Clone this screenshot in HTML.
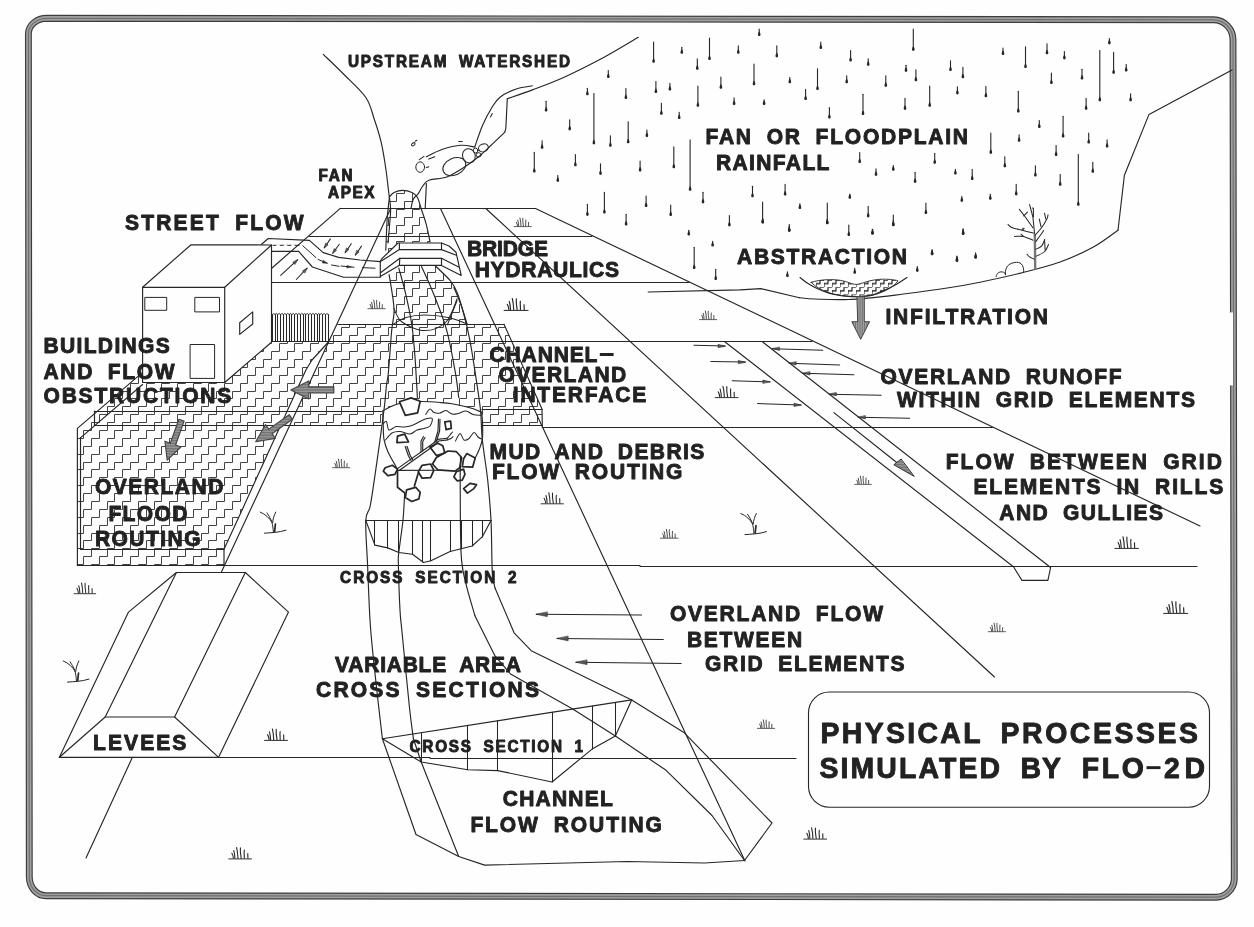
<!DOCTYPE html>
<html><head><meta charset="utf-8"><title>Physical Processes Simulated by FLO-2D</title>
<style>html,body{margin:0;padding:0;background:#fefefe;}svg{display:block;}text{font-family:"Liberation Sans",sans-serif;font-weight:bold;fill:#222;stroke:#222;stroke-width:0.9px;stroke-linejoin:round;word-spacing:0.3em;}</style></head><body>
<svg width="1254" height="927" viewBox="0 0 1254 927">
<rect x="0" y="0" width="1254" height="927" fill="#fefefe"/>
<defs>
<pattern id="stair2" x="800" y="280" width="8.0" height="7.2" patternUnits="userSpaceOnUse"><path d="M0,3.6 H4.0 V0 H8.0 M0,7.2 V3.6" fill="none" stroke="#1c1c1c" stroke-width="1.15"/></pattern>
<pattern id="hl" x="0" y="0" width="4" height="1.6" patternUnits="userSpaceOnUse"><rect x="0" y="0" width="4" height="1.6" fill="#9c9c9c"/><rect x="0" y="0" width="4" height="0.7" fill="#666"/></pattern>
<pattern id="vl" x="0" y="0" width="1.8" height="4" patternUnits="userSpaceOnUse"><rect x="0" y="0" width="1.8" height="4" fill="#a4a4a4"/><rect x="0" y="0" width="0.7" height="4" fill="#666"/></pattern>
<g id="tuft" fill="none" stroke-width="1.15"><path d="M-12,0 H12" stroke-width="1"/><path d="M-8.8,-6 C-7.8,-4.5 -7.4,-3 -7.2,-0.8"/><path d="M-6.8,-8.9 C-5.9,-6 -5.7,-3.5 -5.6,-0.8"/><path d="M-3.8,-11.9 C-2.8,-8 -2.5,-4.5 -2.4,-0.8"/><path d="M0.2,-11.6 C-0.2,-7.5 0.6,-3.5 1.1,-0.6"/><path d="M4.3,-9.2 C3.7,-6 4.6,-3.5 4.3,-0.8"/><path d="M8,-5.7 C7.8,-4 8.2,-2.5 8.1,-0.8"/></g>
<g id="sprout" fill="none" stroke-width="1.0"><path d="M-9,1.1 C-3,0.6 5,0.6 12.5,-1.9"/><path d="M0,0 C-0.3,-4 -0.8,-7 -1.5,-9.8"/><path d="M-1.5,-9.8 C-4,-14 -8,-18 -13.2,-20"/><path d="M-1.8,-11 C-3.2,-14 -4.8,-17 -6.4,-19.2"/><path d="M-0.8,-9.5 C-0.5,-13 0.8,-17 2.3,-20"/><path d="M1.2,-0.5 L2,-8" stroke-width="1.7"/></g>
</defs>
<g stroke="#262626" fill="none" stroke-linecap="round" stroke-linejoin="round">
<g id="border">
<path d="M46.9,18.3 L1213.5,19.8 A19.5,20 0 0 1 1233.0,39.8 L1234.3,878.2 A18.5,19 0 0 1 1215.8,897.2 L45.8,895.7 A16.5,19 0 0 1 29.3,876.7 L28.4,33.8 A18.5,15.5 0 0 1 46.9,18.3 Z" stroke="#3c3c3c" stroke-width="6.9"/>
<path d="M46.9,18.3 L1213.5,19.8 A19.5,20 0 0 1 1233.0,39.8 L1234.3,878.2 A18.5,19 0 0 1 1215.8,897.2 L45.8,895.7 A16.5,19 0 0 1 29.3,876.7 L28.4,33.8 A18.5,15.5 0 0 1 46.9,18.3 Z" stroke="#a0a0a0" stroke-width="4.6"/>
<path d="M46.9,18.3 L1213.5,19.8 A19.5,20 0 0 1 1233.0,39.8 L1234.3,878.2 A18.5,19 0 0 1 1215.8,897.2 L45.8,895.7 A16.5,19 0 0 1 29.3,876.7 L28.4,33.8 A18.5,15.5 0 0 1 46.9,18.3 Z" stroke="#707070" stroke-width="1.2"/>
<rect x="1226" y="312.4" width="7" height="73" fill="#fefefe" stroke="none"/>
</g>
<clipPath id="hc"><path d="M77.4,565.5 L77.4,428.4 L142.6,372.4 L142.6,382.6 L224.7,382.6 L271.5,342.0 L328.9,341.5 L312.0,360.0 L305.9,370.0 L255.7,480.0 L242.1,510.0 L224.0,549.3 L224.0,565.5 Z"/><path d="M336.8,324.3 L504.0,324.3 L542.0,408.9 L542.3,425.4 L289.7,425.4 Z"/><path d="M389.4,197.0 L394.0,192.6 L402.5,190.4 L412.0,192.6 L416.5,196.5 L421.2,208.8 L426.0,223.4 L430.1,242.0 L436.0,266.5 L450.6,281.0 L457.1,292.4 L463.6,313.4 L467.6,325.0 L392.5,325.0 L394.0,313.4 L393.2,300.5 L389.1,274.6 L385.8,250.1 L387.2,218.5 Z"/></clipPath>
<g id="hatch" clip-path="url(#hc)"><path d="M60.5,185.5H68.5V177.5H75.5V170.5M60.5,201.5H68.5V193.5H75.5V185.5H83.5V177.5H91.5V170.5M60.5,217.5H68.5V209.5H75.5V201.5H83.5V193.5H91.5V185.5H99.5V177.5H107.5V170.5M60.5,233.5H68.5V225.5H75.5V217.5H83.5V209.5H91.5V201.5H99.5V193.5H107.5V185.5H114.5V177.5H122.5V170.5M60.5,248.5H68.5V241.5H75.5V233.5H83.5V225.5H91.5V217.5H99.5V209.5H107.5V201.5H114.5V193.5H122.5V185.5H130.5V177.5H138.5V170.5M60.5,264.5H68.5V256.5H75.5V248.5H83.5V241.5H91.5V233.5H99.5V225.5H107.5V217.5H114.5V209.5H122.5V201.5H130.5V193.5H138.5V185.5H146.5V177.5H154.5V170.5M60.5,280.5H68.5V272.5H75.5V264.5H83.5V256.5H91.5V248.5H99.5V241.5H107.5V233.5H114.5V225.5H122.5V217.5H130.5V209.5H138.5V201.5H146.5V193.5H154.5V185.5H161.5V177.5H169.5V170.5M60.5,296.5H68.5V288.5H75.5V280.5H83.5V272.5H91.5V264.5H99.5V256.5H107.5V248.5H114.5V241.5H122.5V233.5H130.5V225.5H138.5V217.5H146.5V209.5H154.5V201.5H161.5V193.5H169.5V185.5H177.5V177.5H185.5V170.5M60.5,312.5H68.5V304.5H75.5V296.5H83.5V288.5H91.5V280.5H99.5V272.5H107.5V264.5H114.5V256.5H122.5V248.5H130.5V241.5H138.5V233.5H146.5V225.5H154.5V217.5H161.5V209.5H169.5V201.5H177.5V193.5H185.5V185.5H193.5V177.5H201.5V170.5M60.5,327.5H68.5V319.5H75.5V312.5H83.5V304.5H91.5V296.5H99.5V288.5H107.5V280.5H114.5V272.5H122.5V264.5H130.5V256.5H138.5V248.5H146.5V241.5H154.5V233.5H161.5V225.5H169.5V217.5H177.5V209.5H185.5V201.5H193.5V193.5H201.5V185.5H208.5V177.5H216.5V170.5M60.5,343.5H68.5V335.5H75.5V327.5H83.5V319.5H91.5V312.5H99.5V304.5H107.5V296.5H114.5V288.5H122.5V280.5H130.5V272.5H138.5V264.5H146.5V256.5H154.5V248.5H161.5V241.5H169.5V233.5H177.5V225.5H185.5V217.5H193.5V209.5H201.5V201.5H208.5V193.5H216.5V185.5H224.5V177.5H232.5V170.5M60.5,359.5H68.5V351.5H75.5V343.5H83.5V335.5H91.5V327.5H99.5V319.5H107.5V312.5H114.5V304.5H122.5V296.5H130.5V288.5H138.5V280.5H146.5V272.5H154.5V264.5H161.5V256.5H169.5V248.5H177.5V241.5H185.5V233.5H193.5V225.5H201.5V217.5H208.5V209.5H216.5V201.5H224.5V193.5H232.5V185.5H240.5V177.5H247.5V170.5M60.5,375.5H68.5V367.5H75.5V359.5H83.5V351.5H91.5V343.5H99.5V335.5H107.5V327.5H114.5V319.5H122.5V312.5H130.5V304.5H138.5V296.5H146.5V288.5H154.5V280.5H161.5V272.5H169.5V264.5H177.5V256.5H185.5V248.5H193.5V241.5H201.5V233.5H208.5V225.5H216.5V217.5H224.5V209.5H232.5V201.5H240.5V193.5H247.5V185.5H255.5V177.5H263.5V170.5M60.5,391.5H68.5V383.5H75.5V375.5H83.5V367.5H91.5V359.5H99.5V351.5H107.5V343.5H114.5V335.5H122.5V327.5H130.5V319.5H138.5V312.5H146.5V304.5H154.5V296.5H161.5V288.5H169.5V280.5H177.5V272.5H185.5V264.5H193.5V256.5H201.5V248.5H208.5V241.5H216.5V233.5H224.5V225.5H232.5V217.5H240.5V209.5H247.5V201.5H255.5V193.5H263.5V185.5H271.5V177.5H279.5V170.5M60.5,406.5H68.5V398.5H75.5V391.5H83.5V383.5H91.5V375.5H99.5V367.5H107.5V359.5H114.5V351.5H122.5V343.5H130.5V335.5H138.5V327.5H146.5V319.5H154.5V312.5H161.5V304.5H169.5V296.5H177.5V288.5H185.5V280.5H193.5V272.5H201.5V264.5H208.5V256.5H216.5V248.5H224.5V241.5H232.5V233.5H240.5V225.5H247.5V217.5H255.5V209.5H263.5V201.5H271.5V193.5H279.5V185.5H287.5V177.5H294.5V170.5M60.5,422.5H68.5V414.5H75.5V406.5H83.5V398.5H91.5V391.5H99.5V383.5H107.5V375.5H114.5V367.5H122.5V359.5H130.5V351.5H138.5V343.5H146.5V335.5H154.5V327.5H161.5V319.5H169.5V312.5H177.5V304.5H185.5V296.5H193.5V288.5H201.5V280.5H208.5V272.5H216.5V264.5H224.5V256.5H232.5V248.5H240.5V241.5H247.5V233.5H255.5V225.5H263.5V217.5H271.5V209.5H279.5V201.5H287.5V193.5H294.5V185.5H302.5V177.5H310.5V170.5M60.5,438.5H68.5V430.5H75.5V422.5H83.5V414.5H91.5V406.5H99.5V398.5H107.5V391.5H114.5V383.5H122.5V375.5H130.5V367.5H138.5V359.5H146.5V351.5H154.5V343.5H161.5V335.5H169.5V327.5H177.5V319.5H185.5V312.5H193.5V304.5H201.5V296.5H208.5V288.5H216.5V280.5H224.5V272.5H232.5V264.5H240.5V256.5H247.5V248.5H255.5V241.5H263.5V233.5H271.5V225.5H279.5V217.5H287.5V209.5H294.5V201.5H302.5V193.5H310.5V185.5H318.5V177.5H326.5V170.5M60.5,454.5H68.5V446.5H75.5V438.5H83.5V430.5H91.5V422.5H99.5V414.5H107.5V406.5H114.5V398.5H122.5V391.5H130.5V383.5H138.5V375.5H146.5V367.5H154.5V359.5H161.5V351.5H169.5V343.5H177.5V335.5H185.5V327.5H193.5V319.5H201.5V312.5H208.5V304.5H216.5V296.5H224.5V288.5H232.5V280.5H240.5V272.5H247.5V264.5H255.5V256.5H263.5V248.5H271.5V241.5H279.5V233.5H287.5V225.5H294.5V217.5H302.5V209.5H310.5V201.5H318.5V193.5H326.5V185.5H333.5V177.5H341.5V170.5M60.5,469.5H68.5V462.5H75.5V454.5H83.5V446.5H91.5V438.5H99.5V430.5H107.5V422.5H114.5V414.5H122.5V406.5H130.5V398.5H138.5V391.5H146.5V383.5H154.5V375.5H161.5V367.5H169.5V359.5H177.5V351.5H185.5V343.5H193.5V335.5H201.5V327.5H208.5V319.5H216.5V312.5H224.5V304.5H232.5V296.5H240.5V288.5H247.5V280.5H255.5V272.5H263.5V264.5H271.5V256.5H279.5V248.5H287.5V241.5H294.5V233.5H302.5V225.5H310.5V217.5H318.5V209.5H326.5V201.5H333.5V193.5H341.5V185.5H349.5V177.5H357.5V170.5M60.5,485.5H68.5V477.5H75.5V469.5H83.5V462.5H91.5V454.5H99.5V446.5H107.5V438.5H114.5V430.5H122.5V422.5H130.5V414.5H138.5V406.5H146.5V398.5H154.5V391.5H161.5V383.5H169.5V375.5H177.5V367.5H185.5V359.5H193.5V351.5H201.5V343.5H208.5V335.5H216.5V327.5H224.5V319.5H232.5V312.5H240.5V304.5H247.5V296.5H255.5V288.5H263.5V280.5H271.5V272.5H279.5V264.5H287.5V256.5H294.5V248.5H302.5V241.5H310.5V233.5H318.5V225.5H326.5V217.5H333.5V209.5H341.5V201.5H349.5V193.5H357.5V185.5H365.5V177.5H373.5V170.5M60.5,501.5H68.5V493.5H75.5V485.5H83.5V477.5H91.5V469.5H99.5V462.5H107.5V454.5H114.5V446.5H122.5V438.5H130.5V430.5H138.5V422.5H146.5V414.5H154.5V406.5H161.5V398.5H169.5V391.5H177.5V383.5H185.5V375.5H193.5V367.5H201.5V359.5H208.5V351.5H216.5V343.5H224.5V335.5H232.5V327.5H240.5V319.5H247.5V312.5H255.5V304.5H263.5V296.5H271.5V288.5H279.5V280.5H287.5V272.5H294.5V264.5H302.5V256.5H310.5V248.5H318.5V241.5H326.5V233.5H333.5V225.5H341.5V217.5H349.5V209.5H357.5V201.5H365.5V193.5H373.5V185.5H380.5V177.5H388.5V170.5M60.5,517.5H68.5V509.5H75.5V501.5H83.5V493.5H91.5V485.5H99.5V477.5H107.5V469.5H114.5V462.5H122.5V454.5H130.5V446.5H138.5V438.5H146.5V430.5H154.5V422.5H161.5V414.5H169.5V406.5H177.5V398.5H185.5V391.5H193.5V383.5H201.5V375.5H208.5V367.5H216.5V359.5H224.5V351.5H232.5V343.5H240.5V335.5H247.5V327.5H255.5V319.5H263.5V312.5H271.5V304.5H279.5V296.5H287.5V288.5H294.5V280.5H302.5V272.5H310.5V264.5H318.5V256.5H326.5V248.5H333.5V241.5H341.5V233.5H349.5V225.5H357.5V217.5H365.5V209.5H373.5V201.5H380.5V193.5H388.5V185.5H396.5V177.5H404.5V170.5M60.5,533.5H68.5V525.5H75.5V517.5H83.5V509.5H91.5V501.5H99.5V493.5H107.5V485.5H114.5V477.5H122.5V469.5H130.5V462.5H138.5V454.5H146.5V446.5H154.5V438.5H161.5V430.5H169.5V422.5H177.5V414.5H185.5V406.5H193.5V398.5H201.5V391.5H208.5V383.5H216.5V375.5H224.5V367.5H232.5V359.5H240.5V351.5H247.5V343.5H255.5V335.5H263.5V327.5H271.5V319.5H279.5V312.5H287.5V304.5H294.5V296.5H302.5V288.5H310.5V280.5H318.5V272.5H326.5V264.5H333.5V256.5H341.5V248.5H349.5V241.5H357.5V233.5H365.5V225.5H373.5V217.5H380.5V209.5H388.5V201.5H396.5V193.5H404.5V185.5H412.5V177.5H419.5V170.5M60.5,548.5H68.5V540.5H75.5V533.5H83.5V525.5H91.5V517.5H99.5V509.5H107.5V501.5H114.5V493.5H122.5V485.5H130.5V477.5H138.5V469.5H146.5V462.5H154.5V454.5H161.5V446.5H169.5V438.5H177.5V430.5H185.5V422.5H193.5V414.5H201.5V406.5H208.5V398.5H216.5V391.5H224.5V383.5H232.5V375.5H240.5V367.5H247.5V359.5H255.5V351.5H263.5V343.5H271.5V335.5H279.5V327.5H287.5V319.5H294.5V312.5H302.5V304.5H310.5V296.5H318.5V288.5H326.5V280.5H333.5V272.5H341.5V264.5H349.5V256.5H357.5V248.5H365.5V241.5H373.5V233.5H380.5V225.5H388.5V217.5H396.5V209.5H404.5V201.5H412.5V193.5H419.5V185.5H427.5V177.5H435.5V170.5M60.5,564.5H68.5V556.5H75.5V548.5H83.5V540.5H91.5V533.5H99.5V525.5H107.5V517.5H114.5V509.5H122.5V501.5H130.5V493.5H138.5V485.5H146.5V477.5H154.5V469.5H161.5V462.5H169.5V454.5H177.5V446.5H185.5V438.5H193.5V430.5H201.5V422.5H208.5V414.5H216.5V406.5H224.5V398.5H232.5V391.5H240.5V383.5H247.5V375.5H255.5V367.5H263.5V359.5H271.5V351.5H279.5V343.5H287.5V335.5H294.5V327.5H302.5V319.5H310.5V312.5H318.5V304.5H326.5V296.5H333.5V288.5H341.5V280.5H349.5V272.5H357.5V264.5H365.5V256.5H373.5V248.5H380.5V241.5H388.5V233.5H396.5V225.5H404.5V217.5H412.5V209.5H419.5V201.5H427.5V193.5H435.5V185.5H443.5V177.5H451.5V170.5M68.5,572.5H75.5V564.5H83.5V556.5H91.5V548.5H99.5V540.5H107.5V533.5H114.5V525.5H122.5V517.5H130.5V509.5H138.5V501.5H146.5V493.5H154.5V485.5H161.5V477.5H169.5V469.5H177.5V462.5H185.5V454.5H193.5V446.5H201.5V438.5H208.5V430.5H216.5V422.5H224.5V414.5H232.5V406.5H240.5V398.5H247.5V391.5H255.5V383.5H263.5V375.5H271.5V367.5H279.5V359.5H287.5V351.5H294.5V343.5H302.5V335.5H310.5V327.5H318.5V319.5H326.5V312.5H333.5V304.5H341.5V296.5H349.5V288.5H357.5V280.5H365.5V272.5H373.5V264.5H380.5V256.5H388.5V248.5H396.5V241.5H404.5V233.5H412.5V225.5H419.5V217.5H427.5V209.5H435.5V201.5H443.5V193.5H451.5V185.5H459.5V177.5H466.5V170.5M83.5,572.5H91.5V564.5H99.5V556.5H107.5V548.5H114.5V540.5H122.5V533.5H130.5V525.5H138.5V517.5H146.5V509.5H154.5V501.5H161.5V493.5H169.5V485.5H177.5V477.5H185.5V469.5H193.5V462.5H201.5V454.5H208.5V446.5H216.5V438.5H224.5V430.5H232.5V422.5H240.5V414.5H247.5V406.5H255.5V398.5H263.5V391.5H271.5V383.5H279.5V375.5H287.5V367.5H294.5V359.5H302.5V351.5H310.5V343.5H318.5V335.5H326.5V327.5H333.5V319.5H341.5V312.5H349.5V304.5H357.5V296.5H365.5V288.5H373.5V280.5H380.5V272.5H388.5V264.5H396.5V256.5H404.5V248.5H412.5V241.5H419.5V233.5H427.5V225.5H435.5V217.5H443.5V209.5H451.5V201.5H459.5V193.5H466.5V185.5H474.5V177.5H482.5V170.5M99.5,572.5H107.5V564.5H114.5V556.5H122.5V548.5H130.5V540.5H138.5V533.5H146.5V525.5H154.5V517.5H161.5V509.5H169.5V501.5H177.5V493.5H185.5V485.5H193.5V477.5H201.5V469.5H208.5V462.5H216.5V454.5H224.5V446.5H232.5V438.5H240.5V430.5H247.5V422.5H255.5V414.5H263.5V406.5H271.5V398.5H279.5V391.5H287.5V383.5H294.5V375.5H302.5V367.5H310.5V359.5H318.5V351.5H326.5V343.5H333.5V335.5H341.5V327.5H349.5V319.5H357.5V312.5H365.5V304.5H373.5V296.5H380.5V288.5H388.5V280.5H396.5V272.5H404.5V264.5H412.5V256.5H419.5V248.5H427.5V241.5H435.5V233.5H443.5V225.5H451.5V217.5H459.5V209.5H466.5V201.5H474.5V193.5H482.5V185.5H490.5V177.5H498.5V170.5M114.5,572.5H122.5V564.5H130.5V556.5H138.5V548.5H146.5V540.5H154.5V533.5H161.5V525.5H169.5V517.5H177.5V509.5H185.5V501.5H193.5V493.5H201.5V485.5H208.5V477.5H216.5V469.5H224.5V462.5H232.5V454.5H240.5V446.5H247.5V438.5H255.5V430.5H263.5V422.5H271.5V414.5H279.5V406.5H287.5V398.5H294.5V391.5H302.5V383.5H310.5V375.5H318.5V367.5H326.5V359.5H333.5V351.5H341.5V343.5H349.5V335.5H357.5V327.5H365.5V319.5H373.5V312.5H380.5V304.5H388.5V296.5H396.5V288.5H404.5V280.5H412.5V272.5H419.5V264.5H427.5V256.5H435.5V248.5H443.5V241.5H451.5V233.5H459.5V225.5H466.5V217.5H474.5V209.5H482.5V201.5H490.5V193.5H498.5V185.5H505.5V177.5H513.5V170.5M130.5,572.5H138.5V564.5H146.5V556.5H154.5V548.5H161.5V540.5H169.5V533.5H177.5V525.5H185.5V517.5H193.5V509.5H201.5V501.5H208.5V493.5H216.5V485.5H224.5V477.5H232.5V469.5H240.5V462.5H247.5V454.5H255.5V446.5H263.5V438.5H271.5V430.5H279.5V422.5H287.5V414.5H294.5V406.5H302.5V398.5H310.5V391.5H318.5V383.5H326.5V375.5H333.5V367.5H341.5V359.5H349.5V351.5H357.5V343.5H365.5V335.5H373.5V327.5H380.5V319.5H388.5V312.5H396.5V304.5H404.5V296.5H412.5V288.5H419.5V280.5H427.5V272.5H435.5V264.5H443.5V256.5H451.5V248.5H459.5V241.5H466.5V233.5H474.5V225.5H482.5V217.5H490.5V209.5H498.5V201.5H505.5V193.5H513.5V185.5H521.5V177.5H529.5V170.5M146.5,572.5H154.5V564.5H161.5V556.5H169.5V548.5H177.5V540.5H185.5V533.5H193.5V525.5H201.5V517.5H208.5V509.5H216.5V501.5H224.5V493.5H232.5V485.5H240.5V477.5H247.5V469.5H255.5V462.5H263.5V454.5H271.5V446.5H279.5V438.5H287.5V430.5H294.5V422.5H302.5V414.5H310.5V406.5H318.5V398.5H326.5V391.5H333.5V383.5H341.5V375.5H349.5V367.5H357.5V359.5H365.5V351.5H373.5V343.5H380.5V335.5H388.5V327.5H396.5V319.5H404.5V312.5H412.5V304.5H419.5V296.5H427.5V288.5H435.5V280.5H443.5V272.5H451.5V264.5H459.5V256.5H466.5V248.5H474.5V241.5H482.5V233.5H490.5V225.5H498.5V217.5H505.5V209.5H513.5V201.5H521.5V193.5H529.5V185.5H537.5V177.5H545.5V170.5M161.5,572.5H169.5V564.5H177.5V556.5H185.5V548.5H193.5V540.5H201.5V533.5H208.5V525.5H216.5V517.5H224.5V509.5H232.5V501.5H240.5V493.5H247.5V485.5H255.5V477.5H263.5V469.5H271.5V462.5H279.5V454.5H287.5V446.5H294.5V438.5H302.5V430.5H310.5V422.5H318.5V414.5H326.5V406.5H333.5V398.5H341.5V391.5H349.5V383.5H357.5V375.5H365.5V367.5H373.5V359.5H380.5V351.5H388.5V343.5H396.5V335.5H404.5V327.5H412.5V319.5H419.5V312.5H427.5V304.5H435.5V296.5H443.5V288.5H451.5V280.5H459.5V272.5H466.5V264.5H474.5V256.5H482.5V248.5H490.5V241.5H498.5V233.5H505.5V225.5H513.5V217.5H521.5V209.5H529.5V201.5H537.5V193.5H545.5V185.5H552.5V177.5M177.5,572.5H185.5V564.5H193.5V556.5H201.5V548.5H208.5V540.5H216.5V533.5H224.5V525.5H232.5V517.5H240.5V509.5H247.5V501.5H255.5V493.5H263.5V485.5H271.5V477.5H279.5V469.5H287.5V462.5H294.5V454.5H302.5V446.5H310.5V438.5H318.5V430.5H326.5V422.5H333.5V414.5H341.5V406.5H349.5V398.5H357.5V391.5H365.5V383.5H373.5V375.5H380.5V367.5H388.5V359.5H396.5V351.5H404.5V343.5H412.5V335.5H419.5V327.5H427.5V319.5H435.5V312.5H443.5V304.5H451.5V296.5H459.5V288.5H466.5V280.5H474.5V272.5H482.5V264.5H490.5V256.5H498.5V248.5H505.5V241.5H513.5V233.5H521.5V225.5H529.5V217.5H537.5V209.5H545.5V201.5H552.5V193.5M193.5,572.5H201.5V564.5H208.5V556.5H216.5V548.5H224.5V540.5H232.5V533.5H240.5V525.5H247.5V517.5H255.5V509.5H263.5V501.5H271.5V493.5H279.5V485.5H287.5V477.5H294.5V469.5H302.5V462.5H310.5V454.5H318.5V446.5H326.5V438.5H333.5V430.5H341.5V422.5H349.5V414.5H357.5V406.5H365.5V398.5H373.5V391.5H380.5V383.5H388.5V375.5H396.5V367.5H404.5V359.5H412.5V351.5H419.5V343.5H427.5V335.5H435.5V327.5H443.5V319.5H451.5V312.5H459.5V304.5H466.5V296.5H474.5V288.5H482.5V280.5H490.5V272.5H498.5V264.5H505.5V256.5H513.5V248.5H521.5V241.5H529.5V233.5H537.5V225.5H545.5V217.5H552.5V209.5M208.5,572.5H216.5V564.5H224.5V556.5H232.5V548.5H240.5V540.5H247.5V533.5H255.5V525.5H263.5V517.5H271.5V509.5H279.5V501.5H287.5V493.5H294.5V485.5H302.5V477.5H310.5V469.5H318.5V462.5H326.5V454.5H333.5V446.5H341.5V438.5H349.5V430.5H357.5V422.5H365.5V414.5H373.5V406.5H380.5V398.5H388.5V391.5H396.5V383.5H404.5V375.5H412.5V367.5H419.5V359.5H427.5V351.5H435.5V343.5H443.5V335.5H451.5V327.5H459.5V319.5H466.5V312.5H474.5V304.5H482.5V296.5H490.5V288.5H498.5V280.5H505.5V272.5H513.5V264.5H521.5V256.5H529.5V248.5H537.5V241.5H545.5V233.5H552.5V225.5M224.5,572.5H232.5V564.5H240.5V556.5H247.5V548.5H255.5V540.5H263.5V533.5H271.5V525.5H279.5V517.5H287.5V509.5H294.5V501.5H302.5V493.5H310.5V485.5H318.5V477.5H326.5V469.5H333.5V462.5H341.5V454.5H349.5V446.5H357.5V438.5H365.5V430.5H373.5V422.5H380.5V414.5H388.5V406.5H396.5V398.5H404.5V391.5H412.5V383.5H419.5V375.5H427.5V367.5H435.5V359.5H443.5V351.5H451.5V343.5H459.5V335.5H466.5V327.5H474.5V319.5H482.5V312.5H490.5V304.5H498.5V296.5H505.5V288.5H513.5V280.5H521.5V272.5H529.5V264.5H537.5V256.5H545.5V248.5H552.5V241.5M240.5,572.5H247.5V564.5H255.5V556.5H263.5V548.5H271.5V540.5H279.5V533.5H287.5V525.5H294.5V517.5H302.5V509.5H310.5V501.5H318.5V493.5H326.5V485.5H333.5V477.5H341.5V469.5H349.5V462.5H357.5V454.5H365.5V446.5H373.5V438.5H380.5V430.5H388.5V422.5H396.5V414.5H404.5V406.5H412.5V398.5H419.5V391.5H427.5V383.5H435.5V375.5H443.5V367.5H451.5V359.5H459.5V351.5H466.5V343.5H474.5V335.5H482.5V327.5H490.5V319.5H498.5V312.5H505.5V304.5H513.5V296.5H521.5V288.5H529.5V280.5H537.5V272.5H545.5V264.5H552.5V256.5M255.5,572.5H263.5V564.5H271.5V556.5H279.5V548.5H287.5V540.5H294.5V533.5H302.5V525.5H310.5V517.5H318.5V509.5H326.5V501.5H333.5V493.5H341.5V485.5H349.5V477.5H357.5V469.5H365.5V462.5H373.5V454.5H380.5V446.5H388.5V438.5H396.5V430.5H404.5V422.5H412.5V414.5H419.5V406.5H427.5V398.5H435.5V391.5H443.5V383.5H451.5V375.5H459.5V367.5H466.5V359.5H474.5V351.5H482.5V343.5H490.5V335.5H498.5V327.5H505.5V319.5H513.5V312.5H521.5V304.5H529.5V296.5H537.5V288.5H545.5V280.5H552.5V272.5M271.5,572.5H279.5V564.5H287.5V556.5H294.5V548.5H302.5V540.5H310.5V533.5H318.5V525.5H326.5V517.5H333.5V509.5H341.5V501.5H349.5V493.5H357.5V485.5H365.5V477.5H373.5V469.5H380.5V462.5H388.5V454.5H396.5V446.5H404.5V438.5H412.5V430.5H419.5V422.5H427.5V414.5H435.5V406.5H443.5V398.5H451.5V391.5H459.5V383.5H466.5V375.5H474.5V367.5H482.5V359.5H490.5V351.5H498.5V343.5H505.5V335.5H513.5V327.5H521.5V319.5H529.5V312.5H537.5V304.5H545.5V296.5H552.5V288.5M287.5,572.5H294.5V564.5H302.5V556.5H310.5V548.5H318.5V540.5H326.5V533.5H333.5V525.5H341.5V517.5H349.5V509.5H357.5V501.5H365.5V493.5H373.5V485.5H380.5V477.5H388.5V469.5H396.5V462.5H404.5V454.5H412.5V446.5H419.5V438.5H427.5V430.5H435.5V422.5H443.5V414.5H451.5V406.5H459.5V398.5H466.5V391.5H474.5V383.5H482.5V375.5H490.5V367.5H498.5V359.5H505.5V351.5H513.5V343.5H521.5V335.5H529.5V327.5H537.5V319.5H545.5V312.5H552.5V304.5M302.5,572.5H310.5V564.5H318.5V556.5H326.5V548.5H333.5V540.5H341.5V533.5H349.5V525.5H357.5V517.5H365.5V509.5H373.5V501.5H380.5V493.5H388.5V485.5H396.5V477.5H404.5V469.5H412.5V462.5H419.5V454.5H427.5V446.5H435.5V438.5H443.5V430.5H451.5V422.5H459.5V414.5H466.5V406.5H474.5V398.5H482.5V391.5H490.5V383.5H498.5V375.5H505.5V367.5H513.5V359.5H521.5V351.5H529.5V343.5H537.5V335.5H545.5V327.5H552.5V319.5M318.5,572.5H326.5V564.5H333.5V556.5H341.5V548.5H349.5V540.5H357.5V533.5H365.5V525.5H373.5V517.5H380.5V509.5H388.5V501.5H396.5V493.5H404.5V485.5H412.5V477.5H419.5V469.5H427.5V462.5H435.5V454.5H443.5V446.5H451.5V438.5H459.5V430.5H466.5V422.5H474.5V414.5H482.5V406.5H490.5V398.5H498.5V391.5H505.5V383.5H513.5V375.5H521.5V367.5H529.5V359.5H537.5V351.5H545.5V343.5H552.5V335.5M333.5,572.5H341.5V564.5H349.5V556.5H357.5V548.5H365.5V540.5H373.5V533.5H380.5V525.5H388.5V517.5H396.5V509.5H404.5V501.5H412.5V493.5H419.5V485.5H427.5V477.5H435.5V469.5H443.5V462.5H451.5V454.5H459.5V446.5H466.5V438.5H474.5V430.5H482.5V422.5H490.5V414.5H498.5V406.5H505.5V398.5H513.5V391.5H521.5V383.5H529.5V375.5H537.5V367.5H545.5V359.5H552.5V351.5M349.5,572.5H357.5V564.5H365.5V556.5H373.5V548.5H380.5V540.5H388.5V533.5H396.5V525.5H404.5V517.5H412.5V509.5H419.5V501.5H427.5V493.5H435.5V485.5H443.5V477.5H451.5V469.5H459.5V462.5H466.5V454.5H474.5V446.5H482.5V438.5H490.5V430.5H498.5V422.5H505.5V414.5H513.5V406.5H521.5V398.5H529.5V391.5H537.5V383.5H545.5V375.5H552.5V367.5M365.5,572.5H373.5V564.5H380.5V556.5H388.5V548.5H396.5V540.5H404.5V533.5H412.5V525.5H419.5V517.5H427.5V509.5H435.5V501.5H443.5V493.5H451.5V485.5H459.5V477.5H466.5V469.5H474.5V462.5H482.5V454.5H490.5V446.5H498.5V438.5H505.5V430.5H513.5V422.5H521.5V414.5H529.5V406.5H537.5V398.5H545.5V391.5H552.5V383.5M380.5,572.5H388.5V564.5H396.5V556.5H404.5V548.5H412.5V540.5H419.5V533.5H427.5V525.5H435.5V517.5H443.5V509.5H451.5V501.5H459.5V493.5H466.5V485.5H474.5V477.5H482.5V469.5H490.5V462.5H498.5V454.5H505.5V446.5H513.5V438.5H521.5V430.5H529.5V422.5H537.5V414.5H545.5V406.5H552.5V398.5M396.5,572.5H404.5V564.5H412.5V556.5H419.5V548.5H427.5V540.5H435.5V533.5H443.5V525.5H451.5V517.5H459.5V509.5H466.5V501.5H474.5V493.5H482.5V485.5H490.5V477.5H498.5V469.5H505.5V462.5H513.5V454.5H521.5V446.5H529.5V438.5H537.5V430.5H545.5V422.5H552.5V414.5M412.5,572.5H419.5V564.5H427.5V556.5H435.5V548.5H443.5V540.5H451.5V533.5H459.5V525.5H466.5V517.5H474.5V509.5H482.5V501.5H490.5V493.5H498.5V485.5H505.5V477.5H513.5V469.5H521.5V462.5H529.5V454.5H537.5V446.5H545.5V438.5H552.5V430.5M427.5,572.5H435.5V564.5H443.5V556.5H451.5V548.5H459.5V540.5H466.5V533.5H474.5V525.5H482.5V517.5H490.5V509.5H498.5V501.5H505.5V493.5H513.5V485.5H521.5V477.5H529.5V469.5H537.5V462.5H545.5V454.5H552.5V446.5M443.5,572.5H451.5V564.5H459.5V556.5H466.5V548.5H474.5V540.5H482.5V533.5H490.5V525.5H498.5V517.5H505.5V509.5H513.5V501.5H521.5V493.5H529.5V485.5H537.5V477.5H545.5V469.5H552.5V462.5M459.5,572.5H466.5V564.5H474.5V556.5H482.5V548.5H490.5V540.5H498.5V533.5H505.5V525.5H513.5V517.5H521.5V509.5H529.5V501.5H537.5V493.5H545.5V485.5H552.5V477.5M474.5,572.5H482.5V564.5H490.5V556.5H498.5V548.5H505.5V540.5H513.5V533.5H521.5V525.5H529.5V517.5H537.5V509.5H545.5V501.5H552.5V493.5M490.5,572.5H498.5V564.5H505.5V556.5H513.5V548.5H521.5V540.5H529.5V533.5H537.5V525.5H545.5V517.5H552.5V509.5M505.5,572.5H513.5V564.5H521.5V556.5H529.5V548.5H537.5V540.5H545.5V533.5H552.5V525.5M521.5,572.5H529.5V564.5H537.5V556.5H545.5V548.5H552.5V540.5M537.5,572.5H545.5V564.5H552.5V556.5" fill="none" stroke="#444" stroke-width="1" stroke-linejoin="miter" stroke-linecap="butt"/></g>
<path d="M382.7,410.9 C388,408 394,405 399.5,403.5 C408,402 414,401.5 420,401.5 C430,401.5 436,402 440,402.5 C452,403.5 458,405 465,406.5 C472,408 478,410 481.7,412.2 L482.6,426.4 L381,426.4 Z" fill="#fefefe" stroke="none"/>
<g id="grid">
<line x1="340.3" y1="208.5" x2="535.5" y2="208.5" stroke-width="1.15" />
<line x1="309.5" y1="236.5" x2="591.8" y2="236.5" stroke-width="1.15" />
<line x1="271.7" y1="282.5" x2="689.0" y2="282.5" stroke-width="1.15" />
<line x1="272.0" y1="341.5" x2="812.0" y2="341.5" stroke-width="1.15" />
<line x1="337.8" y1="324.5" x2="504.0" y2="324.5" stroke-width="1.15" />
<line x1="94.4" y1="411.5" x2="381.5" y2="411.5" stroke-width="1.15" />
<line x1="94.4" y1="425.5" x2="381.0" y2="425.5" stroke-width="1.15" />
<line x1="94.5" y1="411.0" x2="94.5" y2="425.6" stroke-width="1.15" />
<line x1="482.0" y1="409.5" x2="542.0" y2="409.5" stroke-width="1.15" />
<line x1="482.5" y1="425.5" x2="542.3" y2="425.5" stroke-width="1.15" />
<line x1="542.3" y1="427.5" x2="992.4" y2="427.5" stroke-width="1.15" />
<line x1="77.4" y1="565.5" x2="640.0" y2="565.5" stroke-width="1.15" />
<line x1="640.0" y1="566.5" x2="1197.0" y2="566.5" stroke-width="1.15" />
<line x1="59.4" y1="757.5" x2="430.0" y2="757.5" stroke-width="1.15" />
<line x1="430.0" y1="758.5" x2="796.0" y2="758.5" stroke-width="1.15" />
<line x1="340.3" y1="208.4" x2="271.7" y2="268.2" stroke-width="1.15" />
<line x1="390.2" y1="209.6" x2="221.2" y2="572.5" stroke-width="1.15" />
<line x1="440.5" y1="208.5" x2="745.0" y2="861.0" stroke-width="1.15" />
<line x1="485.8" y1="208.5" x2="994.5" y2="677.0" stroke-width="1.15" />
<line x1="535.5" y1="208.5" x2="1200.0" y2="526.0" stroke-width="1.15" />
<path d="M328.9,341.5 L312.0,360.0 L305.9,370.0 L255.7,480.0 L242.1,510.0 L224.0,549.3 L224.0,565.5" fill="none" stroke-width="1.15" />
<line x1="132.4" y1="757.3" x2="86.0" y2="858.0" stroke-width="1.15" />
<path d="M504.0,324.3 L542.0,408.9 L542.3,425.8" fill="none" stroke-width="1.15" />
<path d="M77.4,565.6 L77.4,428.4 L142.6,372.4" fill="none" stroke-width="1.15" />
<path d="M80.7,437.6 L142.6,384.5" fill="none" stroke-width="1.15" />
<line x1="80.7" y1="549.5" x2="224.0" y2="549.5" stroke-width="1.15" />
<line x1="80.5" y1="437.6" x2="80.5" y2="549.1" stroke-width="1.15" />
<g id="hills">
<path d="M323.3,54.4 C326.8,57.8 336.9,67.3 344.0,74.5 C351.1,81.7 360.9,90.1 366.0,97.7 C371.1,105.3 371.9,112.5 374.5,120.0 C377.1,127.5 379.4,134.6 381.3,142.9 C383.2,151.2 384.8,161.7 386.0,170.0 C387.2,178.3 388.0,186.6 388.8,193.0 C389.6,199.4 390.5,203.2 390.6,208.7 C390.7,214.2 389.9,220.3 389.5,226.0 C389.1,231.7 388.2,240.2 388.0,243.0" fill="none" stroke-width="1.15" />
<path d="M638.3,37.3 C632.5,40.7 615.9,50.9 603.6,57.5 C591.3,64.1 576.6,71.5 564.7,76.9 C552.8,82.3 542.0,86.2 532.4,89.9 C522.8,93.6 511.5,97.3 507.3,98.8" fill="none" stroke-width="1.15" />
<path d="M507.3,98.8 L505.8,128.7 L504.8,132.2" fill="none" stroke-width="1.15" />
<path d="M504.8,132.2 C502.3,134.6 494.3,142.3 489.8,146.5 C485.3,150.7 482.1,153.9 477.9,157.3 C473.7,160.7 469.9,163.6 464.7,166.9 C459.5,170.2 452.7,174.8 446.8,177.0 C440.9,179.2 433.4,178.5 429.4,180.0 C425.4,181.5 424.7,183.7 422.8,186.0 C420.9,188.3 419.7,191.6 418.1,193.8 C416.5,196.0 414.5,196.7 413.3,199.2 C412.1,201.7 411.3,207.1 410.9,208.7" fill="none" stroke-width="1.15" />
<path d="M426.4,183.6 L425.8,196.0 L425.2,208.7" fill="none" stroke-width="1.15" />
<path d="M532.4,85.8 C529.7,86.3 521.6,87.1 516.2,89.0 C510.8,90.9 504.1,94.0 500.0,97.2 C495.9,100.4 494.5,103.4 491.6,108.0 C488.7,112.6 485.5,118.6 482.7,125.0 C479.9,131.4 476.2,142.9 474.9,146.5" fill="none" stroke-width="1.15" />
<path d="M474.9,147.1 C472.6,146.8 466.6,144.9 461.1,145.3 C455.6,145.7 447.8,147.6 442.0,149.5 C436.2,151.4 429.0,155.5 426.4,156.7" fill="none" stroke-width="1.15" />
<ellipse cx="454.3" cy="166.6" rx="12" ry="8.4" transform="rotate(-24 454.3 166.6)"/>
<ellipse cx="468.9" cy="155.8" rx="6.3" ry="7.2" transform="rotate(-20 468.9 155.8)"/>
<ellipse cx="475.6" cy="150.6" rx="2.4" ry="2.4"/>
<ellipse cx="478.6" cy="154.9" rx="2.6" ry="2.2"/>
<ellipse cx="483.4" cy="147.8" rx="5" ry="3.8" transform="rotate(-20 483.4 147.8)"/>
<ellipse cx="420.2" cy="167.1" rx="4.4" ry="5.2"/>
<ellipse cx="413.3" cy="144.3" rx="2" ry="1.3" transform="rotate(-35 413.3 144.3)"/>
<line x1="415.2" y1="141.2" x2="416.8" y2="140.2" stroke-width="1.03" />
<line x1="458.7" y1="141.5" x2="462.3" y2="141.5" stroke-width="1.03" />
<line x1="419.3" y1="159.7" x2="424.0" y2="156.3" stroke-width="1.03" />
<line x1="428.8" y1="159.1" x2="434.8" y2="156.7" stroke-width="1.03" />
<line x1="426.5" y1="167.6" x2="428.8" y2="166.8" stroke-width="1.03" />
<line x1="490.5" y1="117.0" x2="492.3" y2="113.5" stroke-width="1.03" />
<path d="M1232.0,70.0 L1149.0,114.4 L1124.4,175.3 L1118.0,230.2" fill="none" stroke-width="1.15" />
<path d="M1118.0,230.2 C1113.9,233.0 1103.1,241.7 1093.4,247.0 C1083.7,252.3 1071.7,257.8 1060.0,262.0 C1048.3,266.2 1036.4,269.1 1023.1,272.5 C1009.8,275.9 992.7,279.6 980.0,282.2 C967.3,284.8 961.2,285.9 947.1,288.0 C933.0,290.1 911.7,293.2 895.3,295.1 C878.9,297.0 862.1,298.9 848.7,299.5 C835.3,300.1 823.2,299.3 815.0,299.0 C806.8,298.7 802.1,297.9 799.5,297.7" fill="none" stroke-width="1.15" />
<path d="M799.5,297.7 L760.7,288.6 L740.0,289.9 L648.2,292.0" fill="none" stroke-width="1.15" />
<path d="M1005.4,274.6 C1004.6,266 1010,262.6 1016.5,262.3 C1022,262 1024.2,267 1023.6,272.3" />
<path d="M996.2,276.5 C996.4,273 999.5,271.6 1002.2,271.9 C1004.6,272.2 1005.6,273.6 1005.6,274.8"/>
<g stroke-width="0.9">
<path d="M1034.6,269.6 L1034.2,233 M1035.8,269.3 L1035.4,234" stroke="#777" stroke-width="1.2"/>
<path d="M1034.5,233.1 L1032.9,217.0 L1029.6,204.6" fill="none" stroke-width="1.03" />
<path d="M1032.9,227.8 L1025.3,217.0 L1019.4,209.4" fill="none" stroke-width="1.03" />
<path d="M1023.7,215.9 L1027.5,212.1" fill="none" stroke-width="1.03" />
<path d="M1033.4,217.0 L1033.4,208.3 L1032.3,208.0" fill="none" stroke-width="1.03" />
<path d="M1033.4,233.1 C1031.7,232.7 1026.6,231.4 1023.1,230.5 C1019.6,229.6 1014.9,228.8 1012.4,227.8 C1009.9,226.8 1008.7,225.1 1008.0,224.5" fill="none" stroke-width="1.03" />
<path d="M1022.0,230.2 L1024.2,228.6 L1022.6,228.2" fill="none" stroke-width="1.03" />
<path d="M1032.9,240.2 C1031.3,239.6 1026.2,237.0 1023.1,236.4 C1020.0,235.8 1015.9,236.4 1014.5,236.4" fill="none" stroke-width="1.03" />
<path d="M1023.5,236.5 L1021.0,234.2" fill="none" stroke-width="1.03" />
<path d="M1035.0,235.3 C1036.1,234.1 1039.5,230.5 1041.5,227.8 C1043.5,225.1 1045.8,221.3 1046.9,219.1 C1048.0,216.9 1047.8,215.5 1048.0,214.8" fill="none" stroke-width="1.03" />
<path d="M1041.0,226.7 L1039.3,219.1" fill="none" stroke-width="1.03" />
<path d="M1045.8,219.1 L1044.5,213.2" fill="none" stroke-width="1.03" />
<path d="M1035.6,241.8 C1036.4,240.7 1039.1,237.2 1040.4,235.3 C1041.7,233.4 1043.1,231.3 1043.6,230.5" fill="none" stroke-width="1.03" />
<path d="M1035.6,249.3 C1036.6,248.8 1040.0,247.7 1041.5,246.1 C1043.0,244.5 1044.2,240.7 1044.7,239.6" fill="none" stroke-width="1.03" />
<path d="M1036.1,256.3 C1037.5,255.5 1042.6,253.5 1044.7,251.5 C1046.8,249.5 1047.9,245.7 1048.5,244.5" fill="none" stroke-width="1.03" />
<path d="M1045.2,250.5 L1044.5,239.5" fill="none" stroke-width="1.03" />
<path d="M1033.9,259.0 C1033.2,258.6 1030.8,257.7 1029.6,256.9 C1028.4,256.1 1027.4,254.6 1026.9,254.2" fill="none" stroke-width="1.03" />
</g>
</g>
<g id="rain">
<path d="M759.2,29.1 V34.0" stroke-width="1.1"/>
<path d="M759.2,31.3 C761.1,34.3 760.8,36.1 759.2,36.1 C757.6,36.1 757.3,34.3 759.2,31.3 Z" fill="#262626" stroke="none"/>
<path d="M653.6,42.0 V60.7" stroke-width="1.1"/>
<path d="M653.6,58.0 C655.5,61.0 655.2,62.8 653.6,62.8 C652.0,62.8 651.7,61.0 653.6,58.0 Z" fill="#262626" stroke="none"/>
<path d="M681.8,47.2 V51.6" stroke-width="1.1"/>
<path d="M681.8,48.9 C683.7,51.9 683.4,53.7 681.8,53.7 C680.2,53.7 679.9,51.9 681.8,48.9 Z" fill="#262626" stroke="none"/>
<path d="M709.5,38.1 V57.9" stroke-width="1.1"/>
<path d="M709.5,55.2 C711.4,58.2 711.1,60.0 709.5,60.0 C707.9,60.0 707.6,58.2 709.5,55.2 Z" fill="#262626" stroke="none"/>
<path d="M738.3,45.9 V51.6" stroke-width="1.1"/>
<path d="M738.3,48.9 C740.2,51.9 739.9,53.7 738.3,53.7 C736.7,53.7 736.4,51.9 738.3,48.9 Z" fill="#262626" stroke="none"/>
<path d="M776.8,45.9 V55.3" stroke-width="1.1"/>
<path d="M776.8,52.6 C778.7,55.6 778.4,57.4 776.8,57.4 C775.2,57.4 774.9,55.6 776.8,52.6 Z" fill="#262626" stroke="none"/>
<path d="M820.8,42.0 V47.0" stroke-width="1.1"/>
<path d="M820.8,44.3 C822.7,47.3 822.4,49.1 820.8,49.1 C819.2,49.1 818.9,47.3 820.8,44.3 Z" fill="#262626" stroke="none"/>
<path d="M850.6,50.6 V59.4" stroke-width="1.1"/>
<path d="M850.6,56.7 C852.5,59.7 852.2,61.5 850.6,61.5 C849.0,61.5 848.7,59.7 850.6,56.7 Z" fill="#262626" stroke="none"/>
<path d="M868.2,58.8 V63.8" stroke-width="1.1"/>
<path d="M868.2,61.1 C870.1,64.1 869.8,65.9 868.2,65.9 C866.6,65.9 866.3,64.1 868.2,61.1 Z" fill="#262626" stroke="none"/>
<path d="M913.3,29.1 V48.8" stroke-width="1.1"/>
<path d="M913.3,46.1 C915.2,49.1 914.9,50.9 913.3,50.9 C911.7,50.9 911.4,49.1 913.3,46.1 Z" fill="#262626" stroke="none"/>
<path d="M608.3,70.5 V76.0" stroke-width="1.1"/>
<path d="M608.3,73.3 C610.2,76.3 609.9,78.1 608.3,78.1 C606.7,78.1 606.4,76.3 608.3,73.3 Z" fill="#262626" stroke="none"/>
<path d="M697.3,58.8 V67.7" stroke-width="1.1"/>
<path d="M697.3,65.0 C699.2,68.0 698.9,69.8 697.3,69.8 C695.7,69.8 695.4,68.0 697.3,65.0 Z" fill="#262626" stroke="none"/>
<path d="M906.0,65.3 V69.8" stroke-width="1.1"/>
<path d="M906.0,67.1 C907.9,70.1 907.6,71.9 906.0,71.9 C904.4,71.9 904.1,70.1 906.0,67.1 Z" fill="#262626" stroke="none"/>
<path d="M915.9,69.7 V79.1" stroke-width="1.1"/>
<path d="M915.9,76.4 C917.8,79.4 917.5,81.2 915.9,81.2 C914.3,81.2 914.0,79.4 915.9,76.4 Z" fill="#262626" stroke="none"/>
<path d="M625.9,88.6 V96.9" stroke-width="1.1"/>
<path d="M625.9,94.2 C627.8,97.2 627.5,99.0 625.9,99.0 C624.3,99.0 624.0,97.2 625.9,94.2 Z" fill="#262626" stroke="none"/>
<path d="M655.9,81.6 V91.0" stroke-width="1.1"/>
<path d="M655.9,88.3 C657.8,91.3 657.5,93.1 655.9,93.1 C654.3,93.1 654.0,91.3 655.9,88.3 Z" fill="#262626" stroke="none"/>
<path d="M669.9,83.4 V88.4" stroke-width="1.1"/>
<path d="M669.9,85.7 C671.8,88.7 671.5,90.5 669.9,90.5 C668.3,90.5 668.0,88.7 669.9,85.7 Z" fill="#262626" stroke="none"/>
<path d="M697.9,86.0 V104.7" stroke-width="1.1"/>
<path d="M697.9,102.0 C699.8,105.0 699.5,106.8 697.9,106.8 C696.3,106.8 696.0,105.0 697.9,102.0 Z" fill="#262626" stroke="none"/>
<path d="M720.9,77.0 V86.6" stroke-width="1.1"/>
<path d="M720.9,83.9 C722.8,86.9 722.5,88.7 720.9,88.7 C719.3,88.7 719.0,86.9 720.9,83.9 Z" fill="#262626" stroke="none"/>
<path d="M754.0,64.0 V83.2" stroke-width="1.1"/>
<path d="M754.0,80.5 C755.9,83.5 755.6,85.3 754.0,85.3 C752.4,85.3 752.1,83.5 754.0,80.5 Z" fill="#262626" stroke="none"/>
<path d="M789.8,77.5 V81.2" stroke-width="1.1"/>
<path d="M789.8,78.5 C791.7,81.5 791.4,83.3 789.8,83.3 C788.2,83.3 787.9,81.5 789.8,78.5 Z" fill="#262626" stroke="none"/>
<path d="M817.5,68.7 V87.9" stroke-width="1.1"/>
<path d="M817.5,85.2 C819.4,88.2 819.1,90.0 817.5,90.0 C815.9,90.0 815.6,88.2 817.5,85.2 Z" fill="#262626" stroke="none"/>
<path d="M846.7,75.7 V81.2" stroke-width="1.1"/>
<path d="M846.7,78.5 C848.6,81.5 848.3,83.3 846.7,83.3 C845.1,83.3 844.8,81.5 846.7,78.5 Z" fill="#262626" stroke="none"/>
<path d="M885.8,75.7 V84.8" stroke-width="1.1"/>
<path d="M885.8,82.1 C887.7,85.1 887.4,86.9 885.8,86.9 C884.2,86.9 883.9,85.1 885.8,82.1 Z" fill="#262626" stroke="none"/>
<path d="M661.4,103.4 V112.7" stroke-width="1.1"/>
<path d="M661.4,110.0 C663.3,113.0 663.0,114.8 661.4,114.8 C659.8,114.8 659.5,113.0 661.4,110.0 Z" fill="#262626" stroke="none"/>
<path d="M679.2,112.4 V116.9" stroke-width="1.1"/>
<path d="M679.2,114.2 C681.1,117.2 680.8,119.0 679.2,119.0 C677.6,119.0 677.3,117.2 679.2,114.2 Z" fill="#262626" stroke="none"/>
<path d="M734.1,97.7 V102.9" stroke-width="1.1"/>
<path d="M734.1,100.2 C736.0,103.2 735.7,105.0 734.1,105.0 C732.5,105.0 732.2,103.2 734.1,100.2 Z" fill="#262626" stroke="none"/>
<path d="M764.1,99.7 V102.9" stroke-width="1.1"/>
<path d="M764.1,100.2 C766.0,103.2 765.7,105.0 764.1,105.0 C762.5,105.0 762.2,103.2 764.1,100.2 Z" fill="#262626" stroke="none"/>
<path d="M805.6,89.4 V98.0" stroke-width="1.1"/>
<path d="M805.6,95.3 C807.5,98.3 807.2,100.1 805.6,100.1 C804.0,100.1 803.7,98.3 805.6,95.3 Z" fill="#262626" stroke="none"/>
<path d="M829.4,107.5 V116.4" stroke-width="1.1"/>
<path d="M829.4,113.7 C831.3,116.7 831.0,118.5 829.4,118.5 C827.8,118.5 827.5,116.7 829.4,113.7 Z" fill="#262626" stroke="none"/>
<path d="M863.0,94.3 V113.0" stroke-width="1.1"/>
<path d="M863.0,110.3 C864.9,113.3 864.6,115.1 863.0,115.1 C861.4,115.1 861.1,113.3 863.0,110.3 Z" fill="#262626" stroke="none"/>
<path d="M905.0,98.4 V107.8" stroke-width="1.1"/>
<path d="M905.0,105.1 C906.9,108.1 906.6,109.9 905.0,109.9 C903.4,109.9 903.1,108.1 905.0,105.1 Z" fill="#262626" stroke="none"/>
<path d="M610.4,135.7 V144.6" stroke-width="1.1"/>
<path d="M610.4,141.9 C612.3,144.9 612.0,146.7 610.4,146.7 C608.8,146.7 608.5,144.9 610.4,141.9 Z" fill="#262626" stroke="none"/>
<path d="M628.2,121.7 V141.2" stroke-width="1.1"/>
<path d="M628.2,138.5 C630.1,141.5 629.8,143.3 628.2,143.3 C626.6,143.3 626.3,141.5 628.2,138.5 Z" fill="#262626" stroke="none"/>
<path d="M646.9,130.0 V135.0" stroke-width="1.1"/>
<path d="M646.9,132.3 C648.8,135.3 648.5,137.1 646.9,137.1 C645.3,137.1 645.0,135.3 646.9,132.3 Z" fill="#262626" stroke="none"/>
<path d="M673.8,146.9 V166.1" stroke-width="1.1"/>
<path d="M673.8,163.4 C675.7,166.4 675.4,168.2 673.8,168.2 C672.2,168.2 671.9,166.4 673.8,163.4 Z" fill="#262626" stroke="none"/>
<path d="M690.1,139.9 V188.6" stroke-width="1.1"/>
<path d="M690.1,185.9 C692.0,188.9 691.7,190.7 690.1,190.7 C688.5,190.7 688.2,188.9 690.1,185.9 Z" fill="#262626" stroke="none"/>
<path d="M640.1,161.1 V169.4" stroke-width="1.1"/>
<path d="M640.1,166.7 C642.0,169.7 641.7,171.5 640.1,171.5 C638.5,171.5 638.2,169.7 640.1,166.7 Z" fill="#262626" stroke="none"/>
<path d="M600.5,163.7 V172.8" stroke-width="1.1"/>
<path d="M600.5,170.1 C602.4,173.1 602.1,174.9 600.5,174.9 C598.9,174.9 598.6,173.1 600.5,170.1 Z" fill="#262626" stroke="none"/>
<path d="M859.7,152.6 V160.9" stroke-width="1.1"/>
<path d="M859.7,158.2 C861.6,161.2 861.3,163.0 859.7,163.0 C858.1,163.0 857.8,161.2 859.7,158.2 Z" fill="#262626" stroke="none"/>
<path d="M876.0,168.9 V173.8" stroke-width="1.1"/>
<path d="M876.0,171.1 C877.9,174.1 877.6,175.9 876.0,175.9 C874.4,175.9 874.1,174.1 876.0,171.1 Z" fill="#262626" stroke="none"/>
<path d="M893.3,165.5 V168.7" stroke-width="1.1"/>
<path d="M893.3,166.0 C895.2,169.0 894.9,170.8 893.3,170.8 C891.7,170.8 891.4,169.0 893.3,166.0 Z" fill="#262626" stroke="none"/>
<path d="M915.1,172.2 V180.8" stroke-width="1.1"/>
<path d="M915.1,178.1 C917.0,181.1 916.7,182.9 915.1,182.9 C913.5,182.9 913.2,181.1 915.1,178.1 Z" fill="#262626" stroke="none"/>
<path d="M752.5,186.2 V195.1" stroke-width="1.1"/>
<path d="M752.5,192.4 C754.4,195.4 754.1,197.2 752.5,197.2 C750.9,197.2 750.6,195.4 752.5,192.4 Z" fill="#262626" stroke="none"/>
<path d="M785.1,184.4 V193.5" stroke-width="1.1"/>
<path d="M785.1,190.8 C787.0,193.8 786.7,195.6 785.1,195.6 C783.5,195.6 783.2,193.8 785.1,190.8 Z" fill="#262626" stroke="none"/>
<path d="M703.0,192.2 V201.3" stroke-width="1.1"/>
<path d="M703.0,198.6 C704.9,201.6 704.6,203.4 703.0,203.4 C701.4,203.4 701.1,201.6 703.0,198.6 Z" fill="#262626" stroke="none"/>
<path d="M849.8,194.0 V196.6" stroke-width="1.1"/>
<path d="M849.8,193.9 C851.7,196.9 851.4,198.7 849.8,198.7 C848.2,198.7 847.9,196.9 849.8,193.9 Z" fill="#262626" stroke="none"/>
<path d="M604.4,192.2 V211.4" stroke-width="1.1"/>
<path d="M604.4,208.7 C606.3,211.7 606.0,213.5 604.4,213.5 C602.8,213.5 602.5,211.7 604.4,208.7 Z" fill="#262626" stroke="none"/>
<path d="M646.1,196.1 V204.9" stroke-width="1.1"/>
<path d="M646.1,202.2 C648.0,205.2 647.7,207.0 646.1,207.0 C644.5,207.0 644.2,205.2 646.1,202.2 Z" fill="#262626" stroke="none"/>
<path d="M670.7,205.1 V214.0" stroke-width="1.1"/>
<path d="M670.7,211.3 C672.6,214.3 672.3,216.1 670.7,216.1 C669.1,216.1 668.8,214.3 670.7,211.3 Z" fill="#262626" stroke="none"/>
<path d="M799.9,203.8 V207.0" stroke-width="1.1"/>
<path d="M799.9,204.3 C801.8,207.3 801.5,209.1 799.9,209.1 C798.3,209.1 798.0,207.3 799.9,204.3 Z" fill="#262626" stroke="none"/>
<path d="M762.6,202.0 V221.0" stroke-width="1.1"/>
<path d="M762.6,218.3 C764.5,221.3 764.2,223.1 762.6,223.1 C761.0,223.1 760.7,221.3 762.6,218.3 Z" fill="#262626" stroke="none"/>
<path d="M827.3,203.0 V222.0" stroke-width="1.1"/>
<path d="M827.3,219.3 C829.2,222.3 828.9,224.1 827.3,224.1 C825.7,224.1 825.4,222.3 827.3,219.3 Z" fill="#262626" stroke="none"/>
<path d="M868.2,206.4 V215.3" stroke-width="1.1"/>
<path d="M868.2,212.6 C870.1,215.6 869.8,217.4 868.2,217.4 C866.6,217.4 866.3,215.6 868.2,212.6 Z" fill="#262626" stroke="none"/>
<path d="M893.3,215.0 V224.1" stroke-width="1.1"/>
<path d="M893.3,221.4 C895.2,224.4 894.9,226.2 893.3,226.2 C891.7,226.2 891.4,224.4 893.3,221.4 Z" fill="#262626" stroke="none"/>
<path d="M626.1,214.2 V223.5" stroke-width="1.1"/>
<path d="M626.1,220.8 C628.0,223.8 627.7,225.6 626.1,225.6 C624.5,225.6 624.2,223.8 626.1,220.8 Z" fill="#262626" stroke="none"/>
<path d="M729.4,215.5 V224.3" stroke-width="1.1"/>
<path d="M729.4,221.6 C731.3,224.6 731.0,226.4 729.4,226.4 C727.8,226.4 727.5,224.6 729.4,221.6 Z" fill="#262626" stroke="none"/>
<path d="M789.3,224.5 V229.8" stroke-width="1.1"/>
<path d="M789.3,227.1 C791.2,230.1 790.9,231.9 789.3,231.9 C787.7,231.9 787.4,230.1 789.3,227.1 Z" fill="#262626" stroke="none"/>
<path d="M848.8,225.0 V233.9" stroke-width="1.1"/>
<path d="M848.8,231.2 C850.7,234.2 850.4,236.0 848.8,236.0 C847.2,236.0 846.9,234.2 848.8,231.2 Z" fill="#262626" stroke="none"/>
<path d="M872.4,229.2 V232.4" stroke-width="1.1"/>
<path d="M872.4,229.7 C874.3,232.7 874.0,234.5 872.4,234.5 C870.8,234.5 870.5,232.7 872.4,229.7 Z" fill="#262626" stroke="none"/>
<path d="M688.8,230.2 V233.4" stroke-width="1.1"/>
<path d="M688.8,230.7 C690.7,233.7 690.4,235.5 688.8,235.5 C687.2,235.5 686.9,233.7 688.8,230.7 Z" fill="#262626" stroke="none"/>
<path d="M712.6,241.4 V244.5" stroke-width="1.1"/>
<path d="M712.6,241.8 C714.5,244.8 714.2,246.6 712.6,246.6 C711.0,246.6 710.7,244.8 712.6,241.8 Z" fill="#262626" stroke="none"/>
<path d="M694.2,247.3 V267.0" stroke-width="1.1"/>
<path d="M694.2,264.3 C696.1,267.3 695.8,269.1 694.2,269.1 C692.6,269.1 692.3,267.3 694.2,264.3 Z" fill="#262626" stroke="none"/>
<path d="M950.5,60.9 V69.0" stroke-width="1.1"/>
<path d="M950.5,66.3 C952.4,69.3 952.1,71.1 950.5,71.1 C948.9,71.1 948.6,69.3 950.5,66.3 Z" fill="#262626" stroke="none"/>
<path d="M962.9,67.4 V76.2" stroke-width="1.1"/>
<path d="M962.9,73.5 C964.8,76.5 964.5,78.3 962.9,78.3 C961.3,78.3 961.0,76.5 962.9,73.5 Z" fill="#262626" stroke="none"/>
<path d="M929.7,86.0 V104.7" stroke-width="1.1"/>
<path d="M929.7,102.0 C931.6,105.0 931.3,106.8 929.7,106.8 C928.1,106.8 927.8,105.0 929.7,102.0 Z" fill="#262626" stroke="none"/>
<path d="M957.4,86.8 V92.3" stroke-width="1.1"/>
<path d="M957.4,89.6 C959.3,92.6 959.0,94.4 957.4,94.4 C955.8,94.4 955.5,92.6 957.4,89.6 Z" fill="#262626" stroke="none"/>
<path d="M985.9,86.5 V95.1" stroke-width="1.1"/>
<path d="M985.9,92.4 C987.8,95.4 987.5,97.2 985.9,97.2 C984.3,97.2 984.0,95.4 985.9,92.4 Z" fill="#262626" stroke="none"/>
<path d="M1003.0,48.0 V52.9" stroke-width="1.1"/>
<path d="M1003.0,50.2 C1004.9,53.2 1004.6,55.0 1003.0,55.0 C1001.4,55.0 1001.1,53.2 1003.0,50.2 Z" fill="#262626" stroke="none"/>
<path d="M1025.5,46.7 V65.9" stroke-width="1.1"/>
<path d="M1025.5,63.2 C1027.4,66.2 1027.1,68.0 1025.5,68.0 C1023.9,68.0 1023.6,66.2 1025.5,63.2 Z" fill="#262626" stroke="none"/>
<path d="M1047.0,43.8 V52.2" stroke-width="1.1"/>
<path d="M1047.0,49.5 C1048.9,52.5 1048.6,54.3 1047.0,54.3 C1045.4,54.3 1045.1,52.5 1047.0,49.5 Z" fill="#262626" stroke="none"/>
<path d="M1064.4,51.6 V57.3" stroke-width="1.1"/>
<path d="M1064.4,54.6 C1066.3,57.6 1066.0,59.4 1064.4,59.4 C1062.8,59.4 1062.5,57.6 1064.4,54.6 Z" fill="#262626" stroke="none"/>
<path d="M1109.4,38.6 V42.3" stroke-width="1.1"/>
<path d="M1109.4,39.6 C1111.3,42.6 1111.0,44.4 1109.4,44.4 C1107.8,44.4 1107.5,42.6 1109.4,39.6 Z" fill="#262626" stroke="none"/>
<path d="M1099.8,50.6 V99.3" stroke-width="1.1"/>
<path d="M1099.8,96.6 C1101.7,99.6 1101.4,101.4 1099.8,101.4 C1098.2,101.4 1097.9,99.6 1099.8,96.6 Z" fill="#262626" stroke="none"/>
<path d="M1113.6,52.4 V71.6" stroke-width="1.1"/>
<path d="M1113.6,68.9 C1115.5,71.9 1115.2,73.7 1113.6,73.7 C1112.0,73.7 1111.7,71.9 1113.6,68.9 Z" fill="#262626" stroke="none"/>
<path d="M1126.2,64.5 V69.5" stroke-width="1.1"/>
<path d="M1126.2,66.8 C1128.1,69.8 1127.8,71.6 1126.2,71.6 C1124.6,71.6 1124.3,69.8 1126.2,66.8 Z" fill="#262626" stroke="none"/>
<path d="M1082.0,69.2 V77.5" stroke-width="1.1"/>
<path d="M1082.0,74.8 C1083.9,77.8 1083.6,79.6 1082.0,79.6 C1080.4,79.6 1080.1,77.8 1082.0,74.8 Z" fill="#262626" stroke="none"/>
<path d="M1051.4,73.1 V81.9" stroke-width="1.1"/>
<path d="M1051.4,79.2 C1053.3,82.2 1053.0,84.0 1051.4,84.0 C1049.8,84.0 1049.5,82.2 1051.4,79.2 Z" fill="#262626" stroke="none"/>
<path d="M1086.1,98.4 V107.6" stroke-width="1.1"/>
<path d="M1086.1,104.9 C1088.0,107.9 1087.7,109.7 1086.1,109.7 C1084.5,109.7 1084.2,107.9 1086.1,104.9 Z" fill="#262626" stroke="none"/>
<path d="M1130.6,93.8 V99.3" stroke-width="1.1"/>
<path d="M1130.6,96.6 C1132.5,99.6 1132.2,101.4 1130.6,101.4 C1129.0,101.4 1128.7,99.6 1130.6,96.6 Z" fill="#262626" stroke="none"/>
<path d="M1018.3,91.2 V110.4" stroke-width="1.1"/>
<path d="M1018.3,107.7 C1020.2,110.7 1019.9,112.5 1018.3,112.5 C1016.7,112.5 1016.4,110.7 1018.3,107.7 Z" fill="#262626" stroke="none"/>
<path d="M1039.3,120.5 V125.9" stroke-width="1.1"/>
<path d="M1039.3,123.2 C1041.2,126.2 1040.9,128.0 1039.3,128.0 C1037.7,128.0 1037.4,126.2 1039.3,123.2 Z" fill="#262626" stroke="none"/>
<path d="M1063.1,116.3 V135.5" stroke-width="1.1"/>
<path d="M1063.1,132.8 C1065.0,135.8 1064.7,137.6 1063.1,137.6 C1061.5,137.6 1061.2,135.8 1063.1,132.8 Z" fill="#262626" stroke="none"/>
<path d="M990.8,133.1 V151.8" stroke-width="1.1"/>
<path d="M990.8,149.1 C992.7,152.1 992.4,153.9 990.8,153.9 C989.2,153.9 988.9,152.1 990.8,149.1 Z" fill="#262626" stroke="none"/>
<path d="M1019.1,134.7 V139.7" stroke-width="1.1"/>
<path d="M1019.1,137.0 C1021.0,140.0 1020.7,141.8 1019.1,141.8 C1017.5,141.8 1017.2,140.0 1019.1,137.0 Z" fill="#262626" stroke="none"/>
<path d="M1088.7,133.1 V141.5" stroke-width="1.1"/>
<path d="M1088.7,138.8 C1090.6,141.8 1090.3,143.6 1088.7,143.6 C1087.1,143.6 1086.8,141.8 1088.7,138.8 Z" fill="#262626" stroke="none"/>
<path d="M1107.1,139.9 V145.4" stroke-width="1.1"/>
<path d="M1107.1,142.7 C1109.0,145.7 1108.7,147.5 1107.1,147.5 C1105.5,147.5 1105.2,145.7 1107.1,142.7 Z" fill="#262626" stroke="none"/>
<path d="M1056.1,145.6 V153.9" stroke-width="1.1"/>
<path d="M1056.1,151.2 C1058.0,154.2 1057.7,156.0 1056.1,156.0 C1054.5,156.0 1054.2,154.2 1056.1,151.2 Z" fill="#262626" stroke="none"/>
<path d="M934.7,153.3 V161.7" stroke-width="1.1"/>
<path d="M934.7,159.0 C936.6,162.0 936.3,163.8 934.7,163.8 C933.1,163.8 932.8,162.0 934.7,159.0 Z" fill="#262626" stroke="none"/>
<path d="M1004.8,156.7 V165.3" stroke-width="1.1"/>
<path d="M1004.8,162.6 C1006.7,165.6 1006.4,167.4 1004.8,167.4 C1003.2,167.4 1002.9,165.6 1004.8,162.6 Z" fill="#262626" stroke="none"/>
<path d="M1078.3,154.6 V203.6" stroke-width="1.1"/>
<path d="M1078.3,200.9 C1080.2,203.9 1079.9,205.7 1078.3,205.7 C1076.7,205.7 1076.4,203.9 1078.3,200.9 Z" fill="#262626" stroke="none"/>
<path d="M1092.8,162.4 V170.7" stroke-width="1.1"/>
<path d="M1092.8,168.0 C1094.7,171.0 1094.4,172.8 1092.8,172.8 C1091.2,172.8 1090.9,171.0 1092.8,168.0 Z" fill="#262626" stroke="none"/>
<path d="M1035.4,165.8 V174.4" stroke-width="1.1"/>
<path d="M1035.4,171.7 C1037.3,174.7 1037.0,176.5 1035.4,176.5 C1033.8,176.5 1033.5,174.7 1035.4,171.7 Z" fill="#262626" stroke="none"/>
<path d="M955.4,169.4 V172.5" stroke-width="1.1"/>
<path d="M955.4,169.8 C957.3,172.8 957.0,174.6 955.4,174.6 C953.8,174.6 953.5,172.8 955.4,169.8 Z" fill="#262626" stroke="none"/>
<path d="M972.2,169.4 V178.0" stroke-width="1.1"/>
<path d="M972.2,175.3 C974.1,178.3 973.8,180.1 972.2,180.1 C970.6,180.1 970.3,178.3 972.2,175.3 Z" fill="#262626" stroke="none"/>
<path d="M1060.2,174.6 V183.7" stroke-width="1.1"/>
<path d="M1060.2,181.0 C1062.1,184.0 1061.8,185.8 1060.2,185.8 C1058.6,185.8 1058.3,184.0 1060.2,181.0 Z" fill="#262626" stroke="none"/>
<path d="M1016.2,184.4 V193.3" stroke-width="1.1"/>
<path d="M1016.2,190.6 C1018.1,193.6 1017.8,195.4 1016.2,195.4 C1014.6,195.4 1014.3,193.6 1016.2,190.6 Z" fill="#262626" stroke="none"/>
<path d="M961.8,196.6 V199.7" stroke-width="1.1"/>
<path d="M961.8,197.0 C963.7,200.0 963.4,201.8 961.8,201.8 C960.2,201.8 959.9,200.0 961.8,197.0 Z" fill="#262626" stroke="none"/>
<path d="M990.3,194.2 V197.7" stroke-width="1.1"/>
<path d="M990.3,195.0 C992.2,198.0 991.9,199.8 990.3,199.8 C988.7,199.8 988.4,198.0 990.3,195.0 Z" fill="#262626" stroke="none"/>
<path d="M925.9,203.0 V211.9" stroke-width="1.1"/>
<path d="M925.9,209.2 C927.8,212.2 927.5,214.0 925.9,214.0 C924.3,214.0 924.0,212.2 925.9,209.2 Z" fill="#262626" stroke="none"/>
<path d="M963.1,228.7 V232.9" stroke-width="1.1"/>
<path d="M963.1,230.2 C965.0,233.2 964.7,235.0 963.1,235.0 C961.5,235.0 961.2,233.2 963.1,230.2 Z" fill="#262626" stroke="none"/>
<path d="M932.1,249.9 V252.8" stroke-width="1.1"/>
<path d="M932.1,250.1 C934.0,253.1 933.7,254.9 932.1,254.9 C930.5,254.9 930.2,253.1 932.1,250.1 Z" fill="#262626" stroke="none"/>
<path d="M956.9,256.1 V259.3" stroke-width="1.1"/>
<path d="M956.9,256.6 C958.8,259.6 958.5,261.4 956.9,261.4 C955.3,261.4 955.0,259.6 956.9,256.6 Z" fill="#262626" stroke="none"/>
<path d="M975.6,253.8 V256.7" stroke-width="1.1"/>
<path d="M975.6,254.0 C977.5,257.0 977.2,258.8 975.6,258.8 C974.0,258.8 973.7,257.0 975.6,254.0 Z" fill="#262626" stroke="none"/>
<path d="M587.4,88.3 V93.2" stroke-width="1.1"/>
<path d="M587.4,90.5 C589.3,93.5 589.0,95.3 587.4,95.3 C585.8,95.3 585.5,93.5 587.4,90.5 Z" fill="#262626" stroke="none"/>
<path d="M593.9,93.6 V142.3" stroke-width="1.1"/>
<path d="M593.9,139.6 C595.8,142.6 595.5,144.4 593.9,144.4 C592.3,144.4 592.0,142.6 593.9,139.6 Z" fill="#262626" stroke="none"/>
<path d="M546.1,101.2 V109.4" stroke-width="1.1"/>
<path d="M546.1,106.7 C548.0,109.7 547.7,111.5 546.1,111.5 C544.5,111.5 544.2,109.7 546.1,106.7 Z" fill="#262626" stroke="none"/>
<path d="M569.7,119.8 V128.3" stroke-width="1.1"/>
<path d="M569.7,125.6 C571.6,128.6 571.3,130.4 569.7,130.4 C568.1,130.4 567.8,128.6 569.7,125.6 Z" fill="#262626" stroke="none"/>
<path d="M542.1,140.8 V146.6" stroke-width="1.1"/>
<path d="M542.1,143.9 C544.0,146.9 543.7,148.7 542.1,148.7 C540.5,148.7 540.2,146.9 542.1,143.9 Z" fill="#262626" stroke="none"/>
<path d="M534.3,152.2 V170.4" stroke-width="1.1"/>
<path d="M534.3,167.7 C536.2,170.7 535.9,172.5 534.3,172.5 C532.7,172.5 532.4,170.7 534.3,167.7 Z" fill="#262626" stroke="none"/>
<path d="M575.4,154.6 V164.1" stroke-width="1.1"/>
<path d="M575.4,161.4 C577.3,164.4 577.0,166.2 575.4,166.2 C573.8,166.2 573.5,164.4 575.4,161.4 Z" fill="#262626" stroke="none"/>
<path d="M557.8,175.6 V179.8" stroke-width="1.1"/>
<path d="M557.8,177.1 C559.7,180.1 559.4,181.9 557.8,181.9 C556.2,181.9 555.9,180.1 557.8,177.1 Z" fill="#262626" stroke="none"/>
<path d="M587.4,204.3 V213.8" stroke-width="1.1"/>
<path d="M587.4,211.1 C589.3,214.1 589.0,215.9 587.4,215.9 C585.8,215.9 585.5,214.1 587.4,211.1 Z" fill="#262626" stroke="none"/>
<path d="M715.7,269.3 V277.9" stroke-width="1.1"/>
<path d="M715.7,275.2 C717.6,278.2 717.3,280.0 715.7,280.0 C714.1,280.0 713.8,278.2 715.7,275.2 Z" fill="#262626" stroke="none"/>
<path d="M789.2,226.2 V229.4" stroke-width="1.1"/>
<path d="M789.2,226.7 C791.1,229.7 790.8,231.5 789.2,231.5 C787.6,231.5 787.3,229.7 789.2,226.7 Z" fill="#262626" stroke="none"/>
<path d="M827.2,219.0 V222.1" stroke-width="1.1"/>
<path d="M827.2,219.4 C829.1,222.4 828.8,224.2 827.2,224.2 C825.6,224.2 825.3,222.4 827.2,219.4 Z" fill="#262626" stroke="none"/>
<path d="M872.6,229.3 V232.5" stroke-width="1.1"/>
<path d="M872.6,229.8 C874.5,232.8 874.2,234.6 872.6,234.6 C871.0,234.6 870.7,232.8 872.6,229.8 Z" fill="#262626" stroke="none"/>
<path d="M893.3,220.5 V223.7" stroke-width="1.1"/>
<path d="M893.3,221.0 C895.2,224.0 894.9,225.8 893.3,225.8 C891.7,225.8 891.4,224.0 893.3,221.0 Z" fill="#262626" stroke="none"/>
<path d="M963.2,229.3 V232.5" stroke-width="1.1"/>
<path d="M963.2,229.8 C965.1,232.8 964.8,234.6 963.2,234.6 C961.6,234.6 961.3,232.8 963.2,229.8 Z" fill="#262626" stroke="none"/>
<path d="M932.1,250.0 V253.2" stroke-width="1.1"/>
<path d="M932.1,250.5 C934.0,253.5 933.7,255.3 932.1,255.3 C930.5,255.3 930.2,253.5 932.1,250.5 Z" fill="#262626" stroke="none"/>
<path d="M957.0,256.8 V259.9" stroke-width="1.1"/>
<path d="M957.0,257.2 C958.9,260.2 958.6,262.0 957.0,262.0 C955.4,262.0 955.1,260.2 957.0,257.2 Z" fill="#262626" stroke="none"/>
<path d="M975.6,252.9 V256.0" stroke-width="1.1"/>
<path d="M975.6,253.3 C977.5,256.3 977.2,258.1 975.6,258.1 C974.0,258.1 973.7,256.3 975.6,253.3 Z" fill="#262626" stroke="none"/>
<path d="M917.3,266.6 V269.8" stroke-width="1.1"/>
<path d="M917.3,267.1 C919.2,270.1 918.9,271.9 917.3,271.9 C915.7,271.9 915.4,270.1 917.3,267.1 Z" fill="#262626" stroke="none"/>
<path d="M854.7,268.4 V271.6" stroke-width="1.1"/>
<path d="M854.7,268.9 C856.6,271.9 856.3,273.7 854.7,273.7 C853.1,273.7 852.8,271.9 854.7,268.9 Z" fill="#262626" stroke="none"/>
<path d="M787.4,271.8 V274.9" stroke-width="1.1"/>
<path d="M787.4,272.2 C789.3,275.2 789.0,277.0 787.4,277.0 C785.8,277.0 785.5,275.2 787.4,272.2 Z" fill="#262626" stroke="none"/>
<path d="M762.8,218.4 V221.6" stroke-width="1.1"/>
<path d="M762.8,218.9 C764.7,221.9 764.4,223.7 762.8,223.7 C761.2,223.7 760.9,221.9 762.8,218.9 Z" fill="#262626" stroke="none"/>
</g>
<g id="street">
<path d="M261.6,244.3 L268.2,238.5 L309.4,240.4 L323.2,252.6 L338.7,257.4 L360.0,260.0 L380.5,261.6" fill="none" stroke-width="1.15" />
<path d="M271.7,251.4 L298.7,251.4 L312.4,267.0 L343.5,277.2 L380.5,277.2" fill="none" stroke-width="1.15" />
<path d="M273,245.3 H299 M302.8,245.8 L316,257.6 M318,259.5 L327.5,263.2 M331.5,265 L339,266.3 M341,266 L354,267.2 M362.5,267.6 L375,268.2" stroke-dasharray="none" stroke-width="1"/>
<path d="M273,245.3 H299" stroke="#fefefe" stroke-width="1.6" stroke-dasharray="2.2 5.2" stroke-dashoffset="-4"/>
<path d="M326.5,263.3 l-4.2,-0.4 l1.2,-2.4 Z M351,267.1 l-4.2,0.9 l0.3,-2.3 Z" fill="#2a2a2a" stroke-width="0.5"/>
<line x1="324.4" y1="247.8" x2="330.4" y2="238.9" stroke-width="1.03" />
<path d="M324.4,247.8 L328.0,244.8 L325.8,243.3 Z" fill="#555" stroke-width="0.6"/>
<line x1="332.8" y1="253.2" x2="339.3" y2="244.3" stroke-width="1.03" />
<path d="M332.8,253.2 L336.5,250.3 L334.4,248.8 Z" fill="#555" stroke-width="0.6"/>
<line x1="345.3" y1="252.6" x2="351.3" y2="243.7" stroke-width="1.03" />
<path d="M345.3,252.6 L348.9,249.6 L346.7,248.1 Z" fill="#555" stroke-width="0.6"/>
<line x1="355.5" y1="255.0" x2="361.5" y2="246.1" stroke-width="1.03" />
<path d="M355.5,255.0 L359.1,252.0 L356.9,250.5 Z" fill="#555" stroke-width="0.6"/>
<line x1="297.5" y1="259.8" x2="280.7" y2="275.4" stroke-width="1.03" />
<path d="M297.5,259.8 L292.9,262.2 L294.8,264.2 Z" fill="#555" stroke-width="0.6"/>
<line x1="307.0" y1="268.2" x2="296.3" y2="279.5" stroke-width="1.03" />
<path d="M307.0,268.2 L302.5,270.9 L304.6,272.8 Z" fill="#555" stroke-width="0.6"/>
</g>
<g id="building">
<path d="M142.6,287.3 L191.0,244.7 L271.5,245.0 L271.5,342.2 L224.7,382.5 L142.6,382.5 Z" fill="#fefefe" stroke-width="1.15" />
<path d="M142.6,287.3 L224.7,287.3 L224.7,382.5" fill="none" stroke-width="1.15" />
<line x1="224.7" y1="287.3" x2="271.5" y2="245.0" stroke-width="1.15" />
<rect x="145.2" y="297.4" width="21.5" height="12.9"/>
<rect x="195.2" y="297.4" width="24.3" height="14.5"/>
<rect x="190.5" y="344.5" width="24.1" height="33.9"/>
<path d="M239.7,322.8 L252.7,311.9 L252.7,324.0 L239.7,334.4 Z" fill="none" stroke-width="1.15" />
<line x1="272.5" y1="314.6" x2="272.5" y2="341.5" stroke-width="1.03" />
<line x1="275.5" y1="314.6" x2="275.5" y2="341.5" stroke-width="1.03" />
<line x1="277.5" y1="314.6" x2="277.5" y2="341.5" stroke-width="1.03" />
<line x1="280.5" y1="314.6" x2="280.5" y2="341.5" stroke-width="1.03" />
<line x1="283.5" y1="314.6" x2="283.5" y2="341.5" stroke-width="1.03" />
<line x1="286.5" y1="314.6" x2="286.5" y2="341.5" stroke-width="1.03" />
<line x1="289.5" y1="314.6" x2="289.5" y2="341.5" stroke-width="1.03" />
<line x1="291.5" y1="314.6" x2="291.5" y2="341.5" stroke-width="1.03" />
<line x1="294.5" y1="314.6" x2="294.5" y2="341.5" stroke-width="1.03" />
<line x1="297.5" y1="314.6" x2="297.5" y2="341.5" stroke-width="1.03" />
<line x1="300.5" y1="314.6" x2="300.5" y2="341.5" stroke-width="1.03" />
<line x1="303.5" y1="314.6" x2="303.5" y2="341.5" stroke-width="1.03" />
<line x1="305.5" y1="314.6" x2="305.5" y2="341.5" stroke-width="1.03" />
<line x1="308.5" y1="314.6" x2="308.5" y2="341.5" stroke-width="1.03" />
<line x1="311.5" y1="314.6" x2="311.5" y2="341.5" stroke-width="1.03" />
<line x1="314.5" y1="314.6" x2="314.5" y2="341.5" stroke-width="1.03" />
<line x1="317.5" y1="314.6" x2="317.5" y2="341.5" stroke-width="1.03" />
<line x1="319.5" y1="314.6" x2="319.5" y2="341.5" stroke-width="1.03" />
<line x1="322.5" y1="314.6" x2="322.5" y2="341.5" stroke-width="1.03" />
<line x1="325.5" y1="314.6" x2="325.5" y2="341.5" stroke-width="1.03" />
<line x1="328.5" y1="314.6" x2="328.5" y2="341.5" stroke-width="1.03" />
<path d="M272.2,314.6 Q273.6,312.2 275.0,314.6 Q276.4,312.2 277.8,314.6 Q279.2,312.2 280.6,314.6 Q282.0,312.2 283.4,314.6 Q284.8,312.2 286.2,314.6 Q287.7,312.2 289.1,314.6 Q290.5,312.2 291.9,314.6 Q293.3,312.2 294.7,314.6 Q296.1,312.2 297.5,314.6 Q298.9,312.2 300.3,314.6 Q301.7,312.2 303.1,314.6 Q304.5,312.2 305.9,314.6 Q307.3,312.2 308.7,314.6 Q310.1,312.2 311.5,314.6 Q312.9,312.2 314.3,314.6 Q315.8,312.2 317.2,314.6 Q318.6,312.2 320.0,314.6 Q321.4,312.2 322.8,314.6 Q324.2,312.2 325.6,314.6 Q327.0,312.2 328.4,314.6" stroke-width="0.9"/>
</g>
<g id="channel">
<path d="M389.4,197.0 C390.2,196.3 391.8,193.7 394.0,192.6 C396.2,191.5 399.5,190.4 402.5,190.4 C405.5,190.4 409.5,191.4 412.0,192.6 C414.5,193.8 416.0,194.8 417.5,197.5 C419.0,200.2 419.8,204.5 421.2,208.8 C422.6,213.1 424.5,217.9 426.0,223.4 C427.5,228.9 429.4,238.9 430.1,242.0" fill="none" stroke-width="1.15" />
<path d="M389.6,196.0 C389.2,199.8 387.8,209.5 387.2,218.5 C386.6,227.5 386.0,244.8 385.8,250.1" fill="none" stroke-width="1.15" />
<path d="M389.1,274.6 C389.8,278.9 392.4,294.0 393.2,300.5 C394.0,307.0 394.3,308.3 394.0,313.4 C393.7,318.5 392.6,321.2 391.6,331.2 C390.7,341.2 389.2,364.3 388.3,373.3 C387.4,382.3 387.2,378.9 386.5,385.0 C385.8,391.1 385.6,397.1 384.0,410.0 C382.4,422.9 379.1,446.9 376.8,462.7 C374.5,478.5 372.2,495.4 370.4,505.0 C368.6,514.6 366.3,510.3 365.8,520.4 C365.3,530.5 367.1,552.4 367.6,565.7 C368.1,579.0 368.5,589.3 369.0,600.0 C369.5,610.7 369.6,616.4 370.7,630.0 C371.8,643.6 373.9,663.7 375.9,681.8 C377.8,699.9 381.3,729.2 382.4,738.7" fill="none" stroke-width="1.15" />
<path d="M382.4,738.7 L416.0,834.5 L458.7,856.5 L484.6,865.1 L627.0,861.5 L704.5,863.0 L744.5,860.5" fill="none" stroke-width="1.15" />
<path d="M398.8,268.1 C399.9,272.2 403.1,283.0 405.3,292.4 C407.5,301.8 410.2,313.9 411.8,324.7 C413.4,335.5 414.1,345.0 415.0,357.1 C415.9,369.2 417.0,390.8 417.4,397.5" fill="none" stroke-width="1.15" />
<path d="M404.7,492.0 C404.4,496.7 404.0,509.9 403.0,520.0 C402.0,530.1 399.6,544.9 398.8,552.5 C398.0,560.1 398.2,556.1 398.4,565.7 C398.6,575.3 399.4,599.3 400.0,610.0 C400.6,620.7 400.2,613.7 401.8,630.0 C403.4,646.3 407.6,689.6 409.5,707.7 C411.4,725.8 412.8,733.5 413.4,738.7" fill="none" stroke-width="1.15" />
<path d="M413.4,738.7 L421.2,762.0 L458.7,856.5" fill="none" stroke-width="1.15" />
<path d="M421.5,266.5 C422.9,269.5 426.6,277.3 429.6,284.3 C432.6,291.3 436.3,300.4 439.3,308.5 C442.3,316.6 444.7,322.0 447.4,332.8 C450.1,343.6 453.6,362.5 455.5,373.3 C457.4,384.1 458.2,393.5 458.7,397.5" fill="none" stroke-width="1.15" />
<path d="M436.0,266.5 C438.4,268.9 447.1,276.7 450.6,281.0 C454.1,285.3 454.9,287.0 457.1,292.4 C459.3,297.8 461.5,305.3 463.6,313.4 C465.8,321.5 467.9,329.6 470.0,340.9 C472.1,352.2 474.8,369.9 476.5,381.4 C478.2,392.9 479.5,400.3 480.5,410.0 C481.5,419.7 481.1,427.7 482.3,439.4 C483.5,451.1 486.2,466.5 487.7,480.0 C489.1,493.5 490.2,505.1 491.0,520.4 C491.8,535.7 491.6,560.4 492.3,571.7 C493.0,583.0 494.6,585.5 495.1,588.2" fill="none" stroke-width="1.15" />
<path d="M495.1,588.2 L514.3,633.2 L531.2,650.7 L631.7,699.9 L684.3,732.8 L772.0,823.0 L744.5,860.5" fill="none" stroke-width="1.15" />
<path d="M453.9,287.5 C455.1,290.4 458.9,299.1 461.0,305.0 C463.1,310.9 465.8,320.1 466.8,323.1" fill="none" stroke-width="1.15" />
<path d="M460.7,457.5 C460.6,461.2 460.1,464.0 460.2,480.0 C460.3,496.0 460.2,536.3 461.1,553.4 C462.0,570.5 463.4,572.3 465.7,582.7 C468.0,593.1 473.4,610.2 474.9,615.7" fill="none" stroke-width="1.15" />
<path d="M474.9,615.7 L482.0,630.0 L495.0,655.9 L510.5,674.0 L572.7,709.0 L615.4,736.1 L666.1,770.3 L712.0,815.5 L744.5,860.5" fill="none" stroke-width="1.15" />
<path d="M394.0,308.5 C395.3,310.8 396.9,318.3 402.0,322.0 C407.1,325.7 417.4,330.6 424.7,330.6 C432.0,330.6 440.6,327.3 446.0,322.0 C451.4,316.7 455.2,302.7 457.1,298.8" fill="none" stroke-width="1.03" />
<path d="M392.4,324.7 C394.7,323.5 400.6,319.1 406.0,317.5 C411.4,315.9 417.7,315.0 424.7,315.0 C431.7,315.0 440.9,316.0 448.0,317.5 C455.1,319.0 464.3,322.8 467.6,323.9" fill="none" stroke-width="1.03" />
<line x1="447.4" y1="324.7" x2="457.1" y2="300.5" stroke-width="1.03" />
</g>
<g id="bridge">
<path d="M380.3,261.4 L381.4,259.2 L398.0,243.0 L441.5,243.0 L449.0,246.0 L456.0,252.2 L461.2,275.4 L441.5,265.4 L399.0,265.4 L380.3,276.6 Z" fill="#fefefe" stroke-width="1.15" />
<path d="M399.4,243.0 L399.4,249.6 L441.5,249.6 L441.5,243.0" fill="none" stroke-width="1.15" />
<path d="M380.5,261.6 L399.4,249.6" fill="none" stroke-width="1.15" />
<path d="M441.5,249.6 L456.4,255.3" fill="none" stroke-width="1.15" />
<path d="M380.5,272.8 L399.8,258.3 L441.5,258.3 L458.6,267.1" fill="none" stroke-width="1.15" />
<path d="M399.8,258.3 L399.4,265.4" fill="none" stroke-width="1.15" />
<path d="M441.5,258.3 L441.5,265.4" fill="none" stroke-width="1.15" />
</g>
<g id="mud">
<path d="M382.7,410.9 C383.9,410.2 387.2,408.2 390.0,407.0 C392.8,405.8 396.0,404.2 399.5,403.5 C403.0,402.8 407.6,402.8 411.0,402.5 C414.4,402.2 416.8,401.6 420.0,401.5 C423.2,401.4 426.7,401.6 430.0,401.8 C433.3,402.0 436.3,402.2 440.0,402.5 C443.7,402.8 447.8,403.1 452.0,403.8 C456.2,404.5 461.3,405.6 465.0,406.5 C468.7,407.4 471.2,408.1 474.0,409.0 C476.8,409.9 480.4,411.7 481.7,412.2" fill="none" stroke-width="1.15" />
<path d="M382.9,411.0 C382.9,413.3 383.0,420.3 383.2,425.0 C383.4,429.7 383.2,434.9 384.0,439.4 C384.8,443.9 385.8,447.1 388.0,452.0 C390.2,456.9 395.9,466.2 397.5,469.1" fill="none" stroke-width="1.15" />
<path d="M481.7,412.2 C481.9,414.3 482.5,420.5 482.6,425.0 C482.7,429.5 482.9,435.2 482.3,439.4 C481.7,443.6 480.2,446.9 479.0,450.0 C477.8,453.1 475.8,456.8 475.2,458.1" fill="none" stroke-width="1.15" />
<path d="M425.7,414.5 C426.4,413.6 428.6,409.3 430.0,409.0 C431.4,408.7 432.3,411.8 434.0,412.5 C435.7,413.2 438.0,413.3 440.0,413.0 C442.0,412.7 444.0,410.3 446.0,410.5 C448.0,410.7 450.0,413.5 452.0,414.0 C454.0,414.5 455.7,414.0 458.0,413.5 C460.3,413.0 463.5,410.8 466.0,411.0 C468.5,411.2 470.5,413.8 473.0,414.5 C475.5,415.2 479.7,415.2 481.0,415.3" fill="none" stroke-width="1.03" />
<path d="M383.3,423.5 C383.8,423.2 385.6,420.4 386.5,421.5 C387.4,422.6 387.4,429.2 389.0,430.0 C390.6,430.8 393.5,427.0 396.0,426.5 C398.5,426.0 401.3,427.2 404.0,427.0 C406.7,426.8 409.3,426.4 412.0,425.5 C414.7,424.6 417.5,422.7 420.0,421.5 C422.5,420.3 424.9,419.0 427.0,418.5 C429.1,418.0 431.8,417.4 432.3,418.6 C432.8,419.9 431.4,424.4 430.0,426.0 C428.6,427.6 426.2,427.8 424.0,428.5 C421.8,429.2 419.3,429.1 417.0,430.0 C414.7,430.9 412.8,433.8 410.0,434.0 C407.2,434.2 403.0,431.7 400.0,431.5 C397.0,431.3 394.4,431.6 392.0,433.0 C389.6,434.4 386.6,438.8 385.5,440.0" fill="none" stroke-width="1.03" />
<path d="M455.5,441.0 C456.2,439.8 458.6,433.7 460.0,433.5 C461.4,433.3 462.5,439.2 464.0,440.0 C465.5,440.8 467.3,439.8 469.0,438.5 C470.7,437.2 472.5,432.8 474.0,432.5 C475.5,432.2 476.8,435.9 478.0,437.0 C479.2,438.1 480.9,438.7 481.5,439.0" fill="none" stroke-width="1.03" />
<path d="M399.5,401.8 L411.1,397.9 L420.2,401.2 L417.6,412.8 L405.3,415.4 Z" fill="#fefefe" stroke-width="1.72" />
<path d="M397.5,436.1 L404.7,434.2 L408.5,442.0 L396.9,442.6 Z" fill="none" stroke-width="1.72" />
<path d="M444.8,421.9 L450.6,421.2 L451.3,428.4 L446.1,429.7 Z" fill="none" stroke-width="1.72" />
<path d="M429.9,447.1 L437.7,443.3 L442.8,445.8 L444.8,453.0 L436.4,455.6 Z" fill="none" stroke-width="1.72" />
<path d="M436.4,457.5 L448.0,451.0 L456.4,451.7 L461.6,457.5 L459.7,467.8 L455.1,471.1 L437.7,469.8 L432.5,464.0 Z" fill="none" stroke-width="1.72" />
<path d="M466.8,453.6 L475.2,458.1 L472.6,467.2 L462.3,466.6 L463.6,458.8 Z" fill="none" stroke-width="1.72" />
<path d="M456.4,471.7 L463.6,469.1 L464.9,474.3 L462.3,480.1 L457.1,480.8 L453.9,476.9 Z" fill="none" stroke-width="1.72" />
<path d="M422.1,465.3 L430.6,464.0 L433.8,470.4 L430.6,477.6 L422.1,478.2 L418.3,471.7 Z" fill="none" stroke-width="1.72" />
<path d="M385.2,467.8 L392.4,465.3 L397.5,469.1 L394.9,474.3 L387.8,475.6 L383.3,471.1 Z" fill="none" stroke-width="1.72" />
<path d="M406.6,489.9 L415.7,487.3 L420.2,492.4 L418.9,498.9 L411.8,501.5 L405.3,497.6 Z" fill="none" stroke-width="1.72" />
<path d="M397.5,470.4 L397.5,487.3 L404.0,492.4" fill="none" stroke-width="1.72" />
<path d="M418.3,473.0 L414.4,486.0" fill="none" stroke-width="1.72" />
<path d="M463.6,488.6 L470.0,483.4 L476.5,484.7 L473.9,488.6 L467.4,493.1 Z" fill="none" stroke-width="1.72" />
<path d="M397.5,468.6 L433.0,443.5 L437.7,439.4 L447.0,438.2" fill="none" stroke-width="1.15" />
<path d="M399.5,470.2 L434.5,445.2 L438.7,441.0 L448.0,439.9" fill="none" stroke-width="1.15" />
<path d="M434.5,443.0 L438.0,431.0 L438.5,419.0" fill="none" stroke-width="1.15" />
<path d="M436.2,442.0 L439.6,431.0 L440.0,419.2" fill="none" stroke-width="1.15" />
<path d="M405.2,446.5 L408.5,456.0 L411.0,460.5" fill="none" stroke-width="1.15" />
<path d="M407.0,446.3 L410.2,455.5 L412.6,459.5" fill="none" stroke-width="1.15" />
<path d="M421.0,452.0 L421.0,441.0 L423.5,436.5" fill="none" stroke-width="1.15" />
<path d="M422.7,451.0 L422.7,441.5 L425.0,437.5" fill="none" stroke-width="1.15" />
<path d="M447.0,438.5 C447.5,437.9 449.1,436.1 450.0,435.0 C450.9,433.9 452.1,432.5 452.5,432.0" fill="none" stroke-width="1.03" />
<path d="M447.5,439.5 C448.1,439.3 450.1,439.0 451.0,438.5 C451.9,438.0 452.7,436.8 453.0,436.5" fill="none" stroke-width="1.03" />
<line x1="460.5" y1="457.5" x2="460.5" y2="470.0" stroke-width="1.15" />
<line x1="397.5" y1="470.4" x2="440.0" y2="470.2" stroke-width="1.15" />
</g>
<g id="xs2">
<line x1="365.8" y1="520.5" x2="491.0" y2="520.5" stroke-width="1.15" />
<path d="M365.8,520.4 L374.9,545.1 L387.8,547.9 L398.8,552.5 L412.5,554.3 L423.5,562.5 L430.9,560.7 L450.1,551.5 L472.1,546.0 L482.2,536.9 L491.0,520.4" fill="none" stroke-width="1.15" />
<line x1="374.5" y1="520.4" x2="374.5" y2="545.1" stroke-width="1.03" />
<line x1="387.5" y1="520.4" x2="387.5" y2="547.9" stroke-width="1.03" />
<line x1="398.5" y1="520.4" x2="398.5" y2="552.5" stroke-width="1.03" />
<line x1="412.5" y1="520.4" x2="412.5" y2="554.3" stroke-width="1.03" />
<line x1="422.5" y1="520.4" x2="422.5" y2="561.8" stroke-width="1.03" />
<line x1="430.5" y1="520.4" x2="430.5" y2="560.7" stroke-width="1.03" />
<line x1="450.5" y1="520.4" x2="450.5" y2="551.5" stroke-width="1.03" />
<line x1="461.5" y1="520.4" x2="461.5" y2="548.8" stroke-width="1.03" />
<line x1="472.5" y1="520.4" x2="472.5" y2="546.0" stroke-width="1.03" />
<line x1="482.5" y1="520.4" x2="482.5" y2="536.9" stroke-width="1.03" />
</g>
<g id="xs1">
<line x1="382.4" y1="738.7" x2="631.7" y2="699.9" stroke-width="1.15" />
<path d="M382.4,738.7 L421.2,762.0 L467.8,769.8 L497.6,770.6 L552.0,782.0 L592.1,749.1 L615.4,736.1 L631.7,699.9" fill="none" stroke-width="1.15" />
<line x1="421.5" y1="732.7" x2="421.5" y2="762.0" stroke-width="1.03" />
<line x1="467.5" y1="725.4" x2="467.5" y2="769.8" stroke-width="1.03" />
<line x1="497.5" y1="720.8" x2="497.5" y2="770.6" stroke-width="1.03" />
<line x1="552.5" y1="712.3" x2="552.5" y2="782.0" stroke-width="1.03" />
<line x1="592.5" y1="706.1" x2="592.5" y2="749.1" stroke-width="1.03" />
<line x1="615.5" y1="702.4" x2="615.5" y2="736.1" stroke-width="1.03" />
</g>
<g id="levee">
<path d="M59.4,757.3 L128.5,612.1 L176.4,572.5 L245.3,572.5 L288.5,612.1 L218.6,757.3 Z" fill="#fefefe" stroke-width="1.15" />
<path d="M59.4,757.3 L105.2,717.0 L174.6,717.0 L218.6,757.3" fill="none" stroke-width="1.15" />
<line x1="105.2" y1="717.0" x2="176.4" y2="572.5" stroke-width="1.15" />
<line x1="174.6" y1="717.0" x2="245.3" y2="572.5" stroke-width="1.15" />
</g>
<g id="rill">
<path d="M725.1,342.0 L1013.7,567.0 L1021.9,580.4 L1047.9,580.4 L1050.6,567.5 L762.7,342.0" fill="none" stroke-width="1.15" />
<line x1="833.9" y1="412.6" x2="898.0" y2="463.5" stroke-width="1.15" />
<path d="M913.9,476.2 L893.8,464.8 L900.8,459.2 Z" fill="url(#hl)" stroke="#333" stroke-width="1"/>
<line x1="725.1" y1="346.1" x2="694.0" y2="345.3" stroke-width="1.03" />
<path d="M725.1,346.1 L718.1,344.4 L718.1,347.4 Z" fill="#555" stroke-width="0.6"/>
<line x1="745.3" y1="362.1" x2="710.9" y2="361.4" stroke-width="1.03" />
<path d="M745.3,362.1 L738.3,360.5 L738.3,363.5 Z" fill="#555" stroke-width="0.6"/>
<line x1="769.9" y1="381.8" x2="732.1" y2="380.8" stroke-width="1.03" />
<path d="M769.9,381.8 L762.9,380.1 L762.9,383.1 Z" fill="#555" stroke-width="0.6"/>
<line x1="801.0" y1="404.9" x2="757.5" y2="403.6" stroke-width="1.03" />
<path d="M801.0,404.9 L794.0,403.2 L794.0,406.2 Z" fill="#555" stroke-width="0.6"/>
<line x1="772.4" y1="348.7" x2="822.8" y2="350.2" stroke-width="1.03" />
<path d="M772.4,348.7 L779.4,350.4 L779.4,347.4 Z" fill="#555" stroke-width="0.6"/>
<line x1="789.2" y1="363.2" x2="839.7" y2="365.0" stroke-width="1.03" />
<path d="M789.2,363.2 L796.1,364.9 L796.2,362.0 Z" fill="#555" stroke-width="0.6"/>
<line x1="802.9" y1="373.3" x2="853.9" y2="374.8" stroke-width="1.03" />
<path d="M802.9,373.3 L809.9,375.0 L809.9,372.0 Z" fill="#555" stroke-width="0.6"/>
<line x1="829.3" y1="394.2" x2="881.1" y2="395.3" stroke-width="1.03" />
<path d="M829.3,394.2 L836.3,395.8 L836.3,392.8 Z" fill="#555" stroke-width="0.6"/>
<line x1="858.3" y1="417.3" x2="909.6" y2="418.3" stroke-width="1.03" />
<path d="M858.3,417.3 L865.3,418.9 L865.3,415.9 Z" fill="#555" stroke-width="0.6"/>
</g>
<g id="ovarrows">
<line x1="536.3" y1="614.3" x2="641.6" y2="614.9" stroke-width="1.03" />
<path d="M536.3,614.3 L547.3,616.6 L547.3,612.2 Z" fill="#555" stroke-width="0.6"/>
<line x1="557.1" y1="638.5" x2="663.3" y2="639.6" stroke-width="1.03" />
<path d="M557.1,638.5 L568.1,640.8 L568.1,636.4 Z" fill="#555" stroke-width="0.6"/>
<line x1="576.0" y1="662.3" x2="681.2" y2="663.4" stroke-width="1.03" />
<path d="M576.0,662.3 L587.0,664.6 L587.0,660.2 Z" fill="#555" stroke-width="0.6"/>
</g>
<g id="pond">
<path d="M811.2,282.3 C820,279.5 832,279 840,280.3 C848,281.6 852,284.5 856.5,284.4 C861,284.3 868,280 880,279.3 C888,278.9 894,279.6 898,280.8 C894,287 884,292.5 872,295.2 C858,297.5 845,297 832,293.6 C822,291 815,286.5 811.2,282.3 Z" fill="url(#stair2)" stroke-width="0.9"/>
<path d="M800.0,277.5 C801.3,278.5 805.0,281.6 808.0,283.5 C811.0,285.4 813.7,287.1 817.7,288.8 C821.7,290.6 826.4,292.7 832.0,294.0 C837.6,295.3 845.0,296.3 851.3,296.6 C857.6,296.9 864.4,296.7 870.0,295.6 C875.6,294.5 880.5,291.9 885.0,290.0 C889.5,288.1 893.3,286.1 897.0,284.0 C900.7,281.9 905.3,278.6 907.0,277.5" fill="none" stroke-width="1.15" />
<path d="M857.3,296.6 H864.3 V321.7 H869.6 L860.7,339.3 L851.8,321.7 H857.3 Z" fill="url(#vl)" stroke="#444" stroke-width="1"/>
</g>
<g id="farrows">
<path d="M333.8,386.8 L308.8,386.8 L308.8,380.9 L290.8,389.9 L308.8,398.9 L308.8,393.0 L333.8,393.0 Z" fill="url(#hl)" stroke-width="1.15" stroke="#444"/>
<path d="M178.9,419.3 L170.3,443.2 L164.9,441.2 L167.2,460.1 L180.9,447.0 L175.6,445.0 L184.1,421.1 Z" fill="url(#hl)" stroke-width="1.15" stroke="#444"/>
<path d="M289.2,414.7 L268.8,429.1 L265.5,424.5 L255.7,441.8 L275.3,438.4 L272.0,433.7 L292.4,419.3 Z" fill="url(#hl)" stroke-width="1.15" stroke="#444"/>
</g>
<rect x="808.5" y="692" width="401" height="115.3" rx="21" ry="21" stroke-width="1.1"/>
<g id="grass">
<use href="#tuft" transform="translate(522.7,226.6) scale(0.72)"/>
<use href="#tuft" transform="translate(376.5,308.7) scale(0.72)"/>
<use href="#tuft" transform="translate(516.1,310.4) scale(1.0)"/>
<use href="#tuft" transform="translate(708.1,319.6) scale(0.72)"/>
<use href="#tuft" transform="translate(726.6,397.6) scale(0.95)"/>
<use href="#tuft" transform="translate(341.2,467.7) scale(0.72)"/>
<use href="#tuft" transform="translate(552.3,503.8) scale(0.93)"/>
<use href="#tuft" transform="translate(669.2,538.2) scale(0.74)"/>
<use href="#tuft" transform="translate(1126.7,548.4) scale(0.98)"/>
<use href="#tuft" transform="translate(84.9,593.7) scale(0.9)"/>
<use href="#tuft" transform="translate(1175.7,613.4) scale(1.0)"/>
<use href="#tuft" transform="translate(996.8,631.7) scale(0.72)"/>
<use href="#tuft" transform="translate(276.0,740.4) scale(0.96)"/>
<use href="#tuft" transform="translate(766.0,728.4) scale(0.72)"/>
<use href="#tuft" transform="translate(815.2,839.1) scale(0.95)"/>
<use href="#tuft" transform="translate(240.2,858.9) scale(0.95)"/>
<use href="#tuft" transform="translate(863.0,484.4) scale(0.7)"/>
<use href="#sprout" transform="translate(754.0,533.5)"/>
<use href="#sprout" transform="translate(273.4,532.1)"/>
<use href="#sprout" transform="translate(76.5,681.0)"/>
</g>
</g>
<g id="labels" style="opacity:0.999">
<text transform="translate(347.9,66.7) scale(0.97,1)" x="0" y="0" font-size="15.8" textLength="229.0" lengthAdjust="spacing" >UPSTREAM WATERSHED</text>
<text transform="translate(318.6,181.1) scale(0.97,1)" x="0" y="0" font-size="15.8" textLength="35.1" lengthAdjust="spacing" >FAN</text>
<text transform="translate(328.0,197.7) scale(0.97,1)" x="0" y="0" font-size="15.8" textLength="48.0" lengthAdjust="spacing" >APEX</text>
<text transform="translate(125.0,229.6) scale(0.97,1)" x="0" y="0" font-size="21.7" textLength="184.2" lengthAdjust="spacing" >STREET FLOW</text>
<text transform="translate(705.5,144.1) scale(0.97,1)" x="0" y="0" font-size="21.7" textLength="270.6" lengthAdjust="spacing" >FAN OR FLOODPLAIN</text>
<text transform="translate(716.0,170.1) scale(0.97,1)" x="0" y="0" font-size="21.7" textLength="117.0" lengthAdjust="spacing" >RAINFALL</text>
<text transform="translate(467.0,256.0) scale(0.97,1)" x="0" y="0" font-size="21.7" textLength="83.5" lengthAdjust="spacing" >BRIDGE</text>
<text transform="translate(474.7,276.6) scale(0.97,1)" x="0" y="0" font-size="21.7" textLength="148.8" lengthAdjust="spacing" >HYDRAULICS</text>
<text transform="translate(737.0,263.6) scale(0.97,1)" x="0" y="0" font-size="21.7" textLength="175.3" lengthAdjust="spacing" >ABSTRACTION</text>
<text transform="translate(885.5,323.7) scale(0.97,1)" x="0" y="0" font-size="21.7" textLength="167.6" lengthAdjust="spacing" >INFILTRATION</text>
<text transform="translate(43.5,352.6) scale(0.97,1)" x="0" y="0" font-size="21.7" textLength="130.2" lengthAdjust="spacing" >BUILDINGS</text>
<text transform="translate(43.5,378.5) scale(0.97,1)" x="0" y="0" font-size="21.7" textLength="135.1" lengthAdjust="spacing" >AND FLOW</text>
<text transform="translate(43.5,403.1) scale(0.97,1)" x="0" y="0" font-size="21.7" textLength="193.7" lengthAdjust="spacing" >OBSTRUCTIONS</text>
<text transform="translate(489.5,361.5) scale(0.97,1)" x="0" y="0" font-size="21.7" textLength="111.3" lengthAdjust="spacing" >CHANNEL</text>
<rect x="599.8" y="353" width="13.8" height="3" fill="#222" stroke="none"/>
<text transform="translate(498.5,381.7) scale(0.97,1)" x="0" y="0" font-size="21.7" textLength="131.6" lengthAdjust="spacing" >OVERLAND</text>
<text transform="translate(512.8,402.4) scale(0.97,1)" x="0" y="0" font-size="21.7" textLength="137.5" lengthAdjust="spacing" >INTERFACE</text>
<text transform="translate(880.5,383.8) scale(0.97,1)" x="0" y="0" font-size="21.7" textLength="248.7" lengthAdjust="spacing" >OVERLAND RUNOFF</text>
<text transform="translate(897.0,407.4) scale(0.97,1)" x="0" y="0" font-size="21.7" textLength="307.2" lengthAdjust="spacing" >WITHIN GRID ELEMENTS</text>
<text transform="translate(489.5,458.8) scale(0.97,1)" x="0" y="0" font-size="21.7" textLength="221.5" lengthAdjust="spacing" >MUD AND DEBRIS</text>
<text transform="translate(492.0,479.3) scale(0.97,1)" x="0" y="0" font-size="21.7" textLength="196.3" lengthAdjust="spacing" >FLOW ROUTING</text>
<text transform="translate(945.7,468.8) scale(0.97,1)" x="0" y="0" font-size="21.7" textLength="284.7" lengthAdjust="spacing" >FLOW BETWEEN GRID</text>
<text transform="translate(973.4,493.9) scale(0.97,1)" x="0" y="0" font-size="21.7" textLength="257.5" lengthAdjust="spacing" >ELEMENTS IN RILLS</text>
<text transform="translate(999.2,519.5) scale(0.97,1)" x="0" y="0" font-size="21.7" textLength="169.0" lengthAdjust="spacing" >AND GULLIES</text>
<text transform="translate(94.9,494.3) scale(0.97,1)" x="0" y="0" font-size="21.7" textLength="132.5" lengthAdjust="spacing" >OVERLAND</text>
<text transform="translate(108.4,520.5) scale(0.97,1)" x="0" y="0" font-size="21.7" textLength="81.5" lengthAdjust="spacing" >FLOOD</text>
<text transform="translate(94.9,545.5) scale(0.97,1)" x="0" y="0" font-size="21.7" textLength="109.0" lengthAdjust="spacing" >ROUTING</text>
<text transform="translate(340.1,583.4) scale(0.97,1)" x="0" y="0" font-size="15.8" textLength="181.9" lengthAdjust="spacing" >CROSS SECTION 2</text>
<text transform="translate(670.0,620.7) scale(0.97,1)" x="0" y="0" font-size="21.7" textLength="219.6" lengthAdjust="spacing" >OVERLAND FLOW</text>
<text transform="translate(686.9,646.6) scale(0.97,1)" x="0" y="0" font-size="21.7" textLength="118.8" lengthAdjust="spacing" >BETWEEN</text>
<text transform="translate(705.0,671.2) scale(0.97,1)" x="0" y="0" font-size="21.7" textLength="205.7" lengthAdjust="spacing" >GRID ELEMENTS</text>
<text transform="translate(335.0,671.6) scale(0.97,1)" x="0" y="0" font-size="21.7" textLength="191.8" lengthAdjust="spacing" >VARIABLE AREA</text>
<text transform="translate(316.0,697.1) scale(0.97,1)" x="0" y="0" font-size="21.7" textLength="229.9" lengthAdjust="spacing" >CROSS SECTIONS</text>
<text transform="translate(93.1,749.5) scale(0.97,1)" x="0" y="0" font-size="21.7" textLength="96.1" lengthAdjust="spacing" >LEVEES</text>
<text transform="translate(409.5,751.8) scale(0.97,1)" x="0" y="0" font-size="15.8" textLength="178.9" lengthAdjust="spacing" >CROSS SECTION 1</text>
<text transform="translate(502.8,805.6) scale(0.97,1)" x="0" y="0" font-size="21.7" textLength="113.4" lengthAdjust="spacing" >CHANNEL</text>
<text transform="translate(470.4,831.5) scale(0.97,1)" x="0" y="0" font-size="21.7" textLength="197.5" lengthAdjust="spacing" >FLOW ROUTING</text>
<text transform="translate(820.6,743.4) scale(0.97,1)" x="0" y="0" font-size="29.3" textLength="164.9" lengthAdjust="spacing" >PHYSICAL</text>
<text transform="translate(1000.6,743.4) scale(0.97,1)" x="0" y="0" font-size="29.3" textLength="203.5" lengthAdjust="spacing" >PROCESSES</text>
<text transform="translate(819.5,778.1) scale(0.97,1)" x="0" y="0" font-size="29.3" textLength="186.1" lengthAdjust="spacing" >SIMULATED</text>
<text transform="translate(1020.4,778.1) scale(0.97,1)" x="0" y="0" font-size="29.3" textLength="41.9" lengthAdjust="spacing" >BY</text>
<text transform="translate(1081.8,778.1) scale(0.97,1)" x="0" y="0" font-size="29.3" textLength="64.1" lengthAdjust="spacing" >FLO</text>
<text transform="translate(1164.0,778.1) scale(0.97,1)" x="0" y="0" font-size="29.3" textLength="42.3" lengthAdjust="spacing" >2D</text>
<rect x="1146.5" y="766.2" width="14" height="2.9" fill="#222" stroke="none"/>
</g>
<g>
</g>
</svg></body></html>
